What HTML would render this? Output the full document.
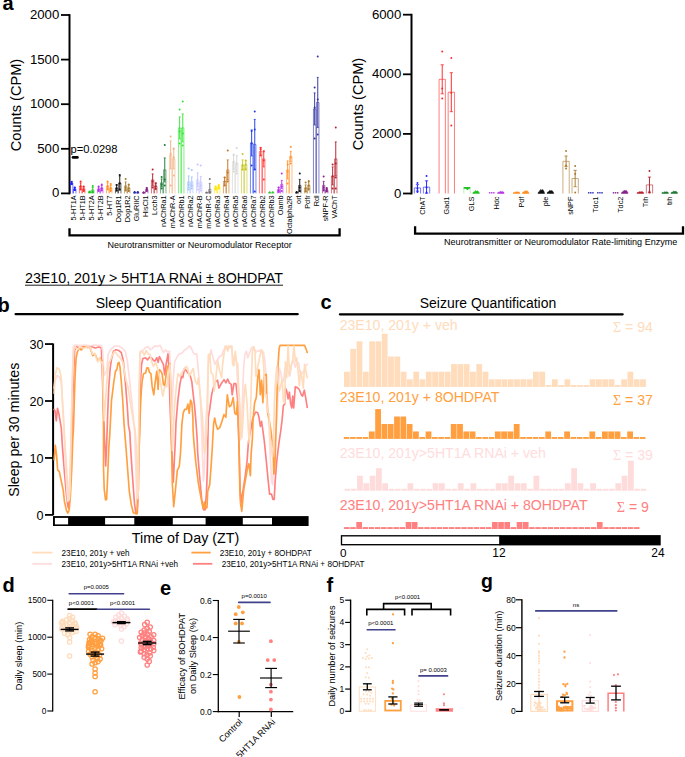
<!DOCTYPE html>
<html><head><meta charset="utf-8"><title>Figure</title>
<style>
html,body{margin:0;padding:0;background:#fff;}
body{width:685px;height:757px;overflow:hidden;font-family:"Liberation Sans", sans-serif;}
svg{display:block;font-family:"Liberation Sans", sans-serif;}
</style></head><body>
<svg width="685" height="757" viewBox="0 0 685 757">
<rect x="0" y="0" width="685" height="757" fill="#ffffff"/>
<g id="panel-a">
<text x="2.50" y="10.00" font-size="20" text-anchor="start" fill="#000" font-weight="bold">a</text>
<line x1="69.50" y1="14.10" x2="69.50" y2="194.30" stroke="#000" stroke-width="2.0" stroke-linecap="butt"/>
<line x1="61.00" y1="193.40" x2="69.50" y2="193.40" stroke="#000" stroke-width="1.8" stroke-linecap="butt"/>
<text x="59.30" y="197.30" font-size="13.2" text-anchor="end" fill="#000" font-weight="normal">0</text>
<line x1="61.00" y1="148.80" x2="69.50" y2="148.80" stroke="#000" stroke-width="1.8" stroke-linecap="butt"/>
<text x="59.30" y="152.70" font-size="13.2" text-anchor="end" fill="#000" font-weight="normal">500</text>
<line x1="61.00" y1="104.20" x2="69.50" y2="104.20" stroke="#000" stroke-width="1.8" stroke-linecap="butt"/>
<text x="59.30" y="108.10" font-size="13.2" text-anchor="end" fill="#000" font-weight="normal">1000</text>
<line x1="61.00" y1="59.60" x2="69.50" y2="59.60" stroke="#000" stroke-width="1.8" stroke-linecap="butt"/>
<text x="59.30" y="63.50" font-size="13.2" text-anchor="end" fill="#000" font-weight="normal">1500</text>
<line x1="61.00" y1="15.00" x2="69.50" y2="15.00" stroke="#000" stroke-width="1.8" stroke-linecap="butt"/>
<text x="59.30" y="18.90" font-size="13.2" text-anchor="end" fill="#000" font-weight="normal">2000</text>
<text x="20.60" y="105.00" font-size="14.6" text-anchor="middle" fill="#000" font-weight="normal" transform="rotate(-90 20.60 105.00)">Counts (CPM)</text>
<text x="70.60" y="153.00" font-size="11.2" text-anchor="start" fill="#000" font-weight="normal">p=0.0298</text>
<line x1="73.00" y1="157.40" x2="77.40" y2="157.40" stroke="#000" stroke-width="2.7" stroke-linecap="round"/>
<polyline points="70.45,193.40 70.45,182.90 72.85,182.90 72.85,193.40" fill="none" stroke="#1f1fff" stroke-width="0.6"/>
<line x1="71.65" y1="181.40" x2="71.65" y2="184.40" stroke="#1f1fff" stroke-width="0.95" stroke-linecap="butt"/>
<line x1="70.65" y1="181.40" x2="72.65" y2="181.40" stroke="#1f1fff" stroke-width="0.8" stroke-linecap="butt"/>
<line x1="70.65" y1="184.40" x2="72.65" y2="184.40" stroke="#1f1fff" stroke-width="0.8" stroke-linecap="butt"/>
<circle cx="71.65" cy="181.90" r="1.0" fill="#1f1fff" stroke="none" stroke-width="1.0"/>
<circle cx="71.65" cy="183.40" r="1.0" fill="#1f1fff" stroke="none" stroke-width="1.0"/>
<circle cx="71.65" cy="183.90" r="1.0" fill="#1f1fff" stroke="none" stroke-width="1.0"/>
<polyline points="73.55,193.40 73.55,188.90 75.95,188.90 75.95,193.40" fill="none" stroke="#1f1fff" stroke-width="0.6"/>
<line x1="74.75" y1="187.40" x2="74.75" y2="190.40" stroke="#1f1fff" stroke-width="0.95" stroke-linecap="butt"/>
<line x1="73.75" y1="187.40" x2="75.75" y2="187.40" stroke="#1f1fff" stroke-width="0.8" stroke-linecap="butt"/>
<line x1="73.75" y1="190.40" x2="75.75" y2="190.40" stroke="#1f1fff" stroke-width="0.8" stroke-linecap="butt"/>
<circle cx="74.75" cy="187.40" r="1.0" fill="#1f1fff" stroke="none" stroke-width="1.0"/>
<circle cx="74.75" cy="189.40" r="1.0" fill="#1f1fff" stroke="none" stroke-width="1.0"/>
<circle cx="74.75" cy="189.90" r="1.0" fill="#1f1fff" stroke="none" stroke-width="1.0"/>
<text x="75.80" y="195.40" font-size="7.3" text-anchor="end" fill="#000" font-weight="normal" transform="rotate(-90 75.80 195.40)">5-HT1A</text>
<polyline points="79.45,193.40 79.45,185.90 81.85,185.90 81.85,193.40" fill="none" stroke="#ff2626" stroke-width="0.6"/>
<line x1="80.65" y1="182.90" x2="80.65" y2="188.90" stroke="#ff2626" stroke-width="0.95" stroke-linecap="butt"/>
<line x1="79.65" y1="182.90" x2="81.65" y2="182.90" stroke="#ff2626" stroke-width="0.8" stroke-linecap="butt"/>
<line x1="79.65" y1="188.90" x2="81.65" y2="188.90" stroke="#ff2626" stroke-width="0.8" stroke-linecap="butt"/>
<circle cx="80.65" cy="181.40" r="1.0" fill="#ff2626" stroke="none" stroke-width="1.0"/>
<circle cx="80.65" cy="186.40" r="1.0" fill="#ff2626" stroke="none" stroke-width="1.0"/>
<circle cx="80.65" cy="189.40" r="1.0" fill="#ff2626" stroke="none" stroke-width="1.0"/>
<polyline points="82.55,193.40 82.55,188.90 84.95,188.90 84.95,193.40" fill="none" stroke="#ff2626" stroke-width="0.6"/>
<line x1="83.75" y1="186.90" x2="83.75" y2="190.90" stroke="#ff2626" stroke-width="0.95" stroke-linecap="butt"/>
<line x1="82.75" y1="186.90" x2="84.75" y2="186.90" stroke="#ff2626" stroke-width="0.8" stroke-linecap="butt"/>
<line x1="82.75" y1="190.90" x2="84.75" y2="190.90" stroke="#ff2626" stroke-width="0.8" stroke-linecap="butt"/>
<circle cx="83.75" cy="186.40" r="1.0" fill="#ff2626" stroke="none" stroke-width="1.0"/>
<circle cx="83.75" cy="189.40" r="1.0" fill="#ff2626" stroke="none" stroke-width="1.0"/>
<circle cx="83.75" cy="190.90" r="1.0" fill="#ff2626" stroke="none" stroke-width="1.0"/>
<text x="84.80" y="195.40" font-size="7.3" text-anchor="end" fill="#000" font-weight="normal" transform="rotate(-90 84.80 195.40)">5-HT1B</text>
<polyline points="88.45,193.40 88.45,191.90 90.85,191.90 90.85,193.40" fill="none" stroke="#21c321" stroke-width="0.6"/>
<line x1="89.65" y1="191.10" x2="89.65" y2="192.70" stroke="#21c321" stroke-width="0.95" stroke-linecap="butt"/>
<line x1="88.65" y1="191.10" x2="90.65" y2="191.10" stroke="#21c321" stroke-width="0.8" stroke-linecap="butt"/>
<line x1="88.65" y1="192.70" x2="90.65" y2="192.70" stroke="#21c321" stroke-width="0.8" stroke-linecap="butt"/>
<circle cx="89.65" cy="191.90" r="1.0" fill="#21c321" stroke="none" stroke-width="1.0"/>
<circle cx="89.65" cy="192.20" r="1.0" fill="#21c321" stroke="none" stroke-width="1.0"/>
<polyline points="91.55,193.40 91.55,189.90 93.95,189.90 93.95,193.40" fill="none" stroke="#21c321" stroke-width="0.6"/>
<line x1="92.75" y1="187.40" x2="92.75" y2="192.40" stroke="#21c321" stroke-width="0.95" stroke-linecap="butt"/>
<line x1="91.75" y1="187.40" x2="93.75" y2="187.40" stroke="#21c321" stroke-width="0.8" stroke-linecap="butt"/>
<line x1="91.75" y1="192.40" x2="93.75" y2="192.40" stroke="#21c321" stroke-width="0.8" stroke-linecap="butt"/>
<circle cx="92.75" cy="185.90" r="1.0" fill="#21c321" stroke="none" stroke-width="1.0"/>
<circle cx="92.75" cy="191.40" r="1.0" fill="#21c321" stroke="none" stroke-width="1.0"/>
<circle cx="92.75" cy="192.40" r="1.0" fill="#21c321" stroke="none" stroke-width="1.0"/>
<text x="93.80" y="195.40" font-size="7.3" text-anchor="end" fill="#000" font-weight="normal" transform="rotate(-90 93.80 195.40)">5-HT2A</text>
<polyline points="97.45,193.40 97.45,188.90 99.85,188.90 99.85,193.40" fill="none" stroke="#b432e6" stroke-width="0.6"/>
<line x1="98.65" y1="186.90" x2="98.65" y2="190.90" stroke="#b432e6" stroke-width="0.95" stroke-linecap="butt"/>
<line x1="97.65" y1="186.90" x2="99.65" y2="186.90" stroke="#b432e6" stroke-width="0.8" stroke-linecap="butt"/>
<line x1="97.65" y1="190.90" x2="99.65" y2="190.90" stroke="#b432e6" stroke-width="0.8" stroke-linecap="butt"/>
<circle cx="98.65" cy="186.40" r="1.0" fill="#b432e6" stroke="none" stroke-width="1.0"/>
<circle cx="98.65" cy="189.40" r="1.0" fill="#b432e6" stroke="none" stroke-width="1.0"/>
<circle cx="98.65" cy="190.90" r="1.0" fill="#b432e6" stroke="none" stroke-width="1.0"/>
<polyline points="100.55,193.40 100.55,187.90 102.95,187.90 102.95,193.40" fill="none" stroke="#b432e6" stroke-width="0.6"/>
<line x1="101.75" y1="185.40" x2="101.75" y2="190.40" stroke="#b432e6" stroke-width="0.95" stroke-linecap="butt"/>
<line x1="100.75" y1="185.40" x2="102.75" y2="185.40" stroke="#b432e6" stroke-width="0.8" stroke-linecap="butt"/>
<line x1="100.75" y1="190.40" x2="102.75" y2="190.40" stroke="#b432e6" stroke-width="0.8" stroke-linecap="butt"/>
<circle cx="101.75" cy="184.40" r="1.0" fill="#b432e6" stroke="none" stroke-width="1.0"/>
<circle cx="101.75" cy="188.40" r="1.0" fill="#b432e6" stroke="none" stroke-width="1.0"/>
<circle cx="101.75" cy="190.40" r="1.0" fill="#b432e6" stroke="none" stroke-width="1.0"/>
<text x="102.80" y="195.40" font-size="7.3" text-anchor="end" fill="#000" font-weight="normal" transform="rotate(-90 102.80 195.40)">5-HT2B</text>
<polyline points="106.45,193.40 106.45,185.90 108.85,185.90 108.85,193.40" fill="none" stroke="#ff8c1f" stroke-width="0.6"/>
<line x1="107.65" y1="182.90" x2="107.65" y2="188.90" stroke="#ff8c1f" stroke-width="0.95" stroke-linecap="butt"/>
<line x1="106.65" y1="182.90" x2="108.65" y2="182.90" stroke="#ff8c1f" stroke-width="0.8" stroke-linecap="butt"/>
<line x1="106.65" y1="188.90" x2="108.65" y2="188.90" stroke="#ff8c1f" stroke-width="0.8" stroke-linecap="butt"/>
<circle cx="107.65" cy="181.40" r="1.0" fill="#ff8c1f" stroke="none" stroke-width="1.0"/>
<circle cx="107.65" cy="186.40" r="1.0" fill="#ff8c1f" stroke="none" stroke-width="1.0"/>
<circle cx="107.65" cy="189.40" r="1.0" fill="#ff8c1f" stroke="none" stroke-width="1.0"/>
<polyline points="109.55,193.40 109.55,187.90 111.95,187.90 111.95,193.40" fill="none" stroke="#ff8c1f" stroke-width="0.6"/>
<line x1="110.75" y1="185.40" x2="110.75" y2="190.40" stroke="#ff8c1f" stroke-width="0.95" stroke-linecap="butt"/>
<line x1="109.75" y1="185.40" x2="111.75" y2="185.40" stroke="#ff8c1f" stroke-width="0.8" stroke-linecap="butt"/>
<line x1="109.75" y1="190.40" x2="111.75" y2="190.40" stroke="#ff8c1f" stroke-width="0.8" stroke-linecap="butt"/>
<circle cx="110.75" cy="183.90" r="1.0" fill="#ff8c1f" stroke="none" stroke-width="1.0"/>
<circle cx="110.75" cy="188.40" r="1.0" fill="#ff8c1f" stroke="none" stroke-width="1.0"/>
<circle cx="110.75" cy="190.90" r="1.0" fill="#ff8c1f" stroke="none" stroke-width="1.0"/>
<text x="111.80" y="195.40" font-size="7.3" text-anchor="end" fill="#000" font-weight="normal" transform="rotate(-90 111.80 195.40)">5-HT7</text>
<polyline points="115.45,193.40 115.45,187.90 117.85,187.90 117.85,193.40" fill="none" stroke="#111111" stroke-width="0.6"/>
<line x1="116.65" y1="184.90" x2="116.65" y2="190.90" stroke="#111111" stroke-width="0.95" stroke-linecap="butt"/>
<line x1="115.65" y1="184.90" x2="117.65" y2="184.90" stroke="#111111" stroke-width="0.8" stroke-linecap="butt"/>
<line x1="115.65" y1="190.90" x2="117.65" y2="190.90" stroke="#111111" stroke-width="0.8" stroke-linecap="butt"/>
<circle cx="116.65" cy="184.90" r="1.0" fill="#111111" stroke="none" stroke-width="1.0"/>
<circle cx="116.65" cy="188.40" r="1.0" fill="#111111" stroke="none" stroke-width="1.0"/>
<circle cx="116.65" cy="190.40" r="1.0" fill="#111111" stroke="none" stroke-width="1.0"/>
<polyline points="118.55,193.40 118.55,182.90 120.95,182.90 120.95,193.40" fill="none" stroke="#111111" stroke-width="0.6"/>
<line x1="119.75" y1="175.90" x2="119.75" y2="189.90" stroke="#111111" stroke-width="0.95" stroke-linecap="butt"/>
<line x1="118.75" y1="175.90" x2="120.75" y2="175.90" stroke="#111111" stroke-width="0.8" stroke-linecap="butt"/>
<line x1="118.75" y1="189.90" x2="120.75" y2="189.90" stroke="#111111" stroke-width="0.8" stroke-linecap="butt"/>
<circle cx="119.75" cy="174.90" r="1.0" fill="#111111" stroke="none" stroke-width="1.0"/>
<circle cx="119.75" cy="183.40" r="1.0" fill="#111111" stroke="none" stroke-width="1.0"/>
<circle cx="119.75" cy="189.40" r="1.0" fill="#111111" stroke="none" stroke-width="1.0"/>
<text x="120.80" y="195.40" font-size="7.3" text-anchor="end" fill="#000" font-weight="normal" transform="rotate(-90 120.80 195.40)">Dop1R1</text>
<polyline points="124.45,193.40 124.45,185.90 126.85,185.90 126.85,193.40" fill="none" stroke="#a8782c" stroke-width="0.6"/>
<line x1="125.65" y1="181.90" x2="125.65" y2="189.90" stroke="#a8782c" stroke-width="0.95" stroke-linecap="butt"/>
<line x1="124.65" y1="181.90" x2="126.65" y2="181.90" stroke="#a8782c" stroke-width="0.8" stroke-linecap="butt"/>
<line x1="124.65" y1="189.90" x2="126.65" y2="189.90" stroke="#a8782c" stroke-width="0.8" stroke-linecap="butt"/>
<circle cx="125.65" cy="178.90" r="1.0" fill="#a8782c" stroke="none" stroke-width="1.0"/>
<circle cx="125.65" cy="187.40" r="1.0" fill="#a8782c" stroke="none" stroke-width="1.0"/>
<circle cx="125.65" cy="190.40" r="1.0" fill="#a8782c" stroke="none" stroke-width="1.0"/>
<polyline points="127.55,193.40 127.55,187.90 129.95,187.90 129.95,193.40" fill="none" stroke="#a8782c" stroke-width="0.6"/>
<line x1="128.75" y1="184.90" x2="128.75" y2="190.90" stroke="#a8782c" stroke-width="0.95" stroke-linecap="butt"/>
<line x1="127.75" y1="184.90" x2="129.75" y2="184.90" stroke="#a8782c" stroke-width="0.8" stroke-linecap="butt"/>
<line x1="127.75" y1="190.90" x2="129.75" y2="190.90" stroke="#a8782c" stroke-width="0.8" stroke-linecap="butt"/>
<circle cx="128.75" cy="184.40" r="1.0" fill="#a8782c" stroke="none" stroke-width="1.0"/>
<circle cx="128.75" cy="188.40" r="1.0" fill="#a8782c" stroke="none" stroke-width="1.0"/>
<circle cx="128.75" cy="190.90" r="1.0" fill="#a8782c" stroke="none" stroke-width="1.0"/>
<text x="129.80" y="195.40" font-size="7.3" text-anchor="end" fill="#000" font-weight="normal" transform="rotate(-90 129.80 195.40)">Dop1R2</text>
<line x1="133.15" y1="192.90" x2="136.15" y2="192.90" stroke="#2424b4" stroke-width="1.0" stroke-linecap="butt"/>
<circle cx="134.65" cy="192.10" r="1.0" fill="#2424b4" stroke="none" stroke-width="1.0"/>
<circle cx="134.65" cy="192.40" r="1.0" fill="#2424b4" stroke="none" stroke-width="1.0"/>
<line x1="136.25" y1="192.90" x2="139.25" y2="192.90" stroke="#2424b4" stroke-width="1.0" stroke-linecap="butt"/>
<circle cx="137.75" cy="192.10" r="1.0" fill="#2424b4" stroke="none" stroke-width="1.0"/>
<circle cx="137.75" cy="192.40" r="1.0" fill="#2424b4" stroke="none" stroke-width="1.0"/>
<text x="138.80" y="195.40" font-size="7.3" text-anchor="end" fill="#000" font-weight="normal" transform="rotate(-90 138.80 195.40)">GluRIIC</text>
<line x1="142.15" y1="192.90" x2="145.15" y2="192.90" stroke="#84218a" stroke-width="1.0" stroke-linecap="butt"/>
<circle cx="143.65" cy="192.40" r="1.0" fill="#84218a" stroke="none" stroke-width="1.0"/>
<circle cx="143.65" cy="192.60" r="1.0" fill="#84218a" stroke="none" stroke-width="1.0"/>
<polyline points="145.55,193.40 145.55,189.40 147.95,189.40 147.95,193.40" fill="none" stroke="#84218a" stroke-width="0.6"/>
<line x1="146.75" y1="187.90" x2="146.75" y2="190.90" stroke="#84218a" stroke-width="0.95" stroke-linecap="butt"/>
<line x1="145.75" y1="187.90" x2="147.75" y2="187.90" stroke="#84218a" stroke-width="0.8" stroke-linecap="butt"/>
<line x1="145.75" y1="190.90" x2="147.75" y2="190.90" stroke="#84218a" stroke-width="0.8" stroke-linecap="butt"/>
<circle cx="146.75" cy="187.90" r="1.0" fill="#84218a" stroke="none" stroke-width="1.0"/>
<circle cx="146.75" cy="189.40" r="1.0" fill="#84218a" stroke="none" stroke-width="1.0"/>
<circle cx="146.75" cy="190.90" r="1.0" fill="#84218a" stroke="none" stroke-width="1.0"/>
<text x="147.80" y="195.40" font-size="7.3" text-anchor="end" fill="#000" font-weight="normal" transform="rotate(-90 147.80 195.40)">HisCl1</text>
<polyline points="151.45,193.40 151.45,179.90 153.85,179.90 153.85,193.40" fill="none" stroke="#b4202c" stroke-width="0.6"/>
<line x1="152.65" y1="173.90" x2="152.65" y2="185.90" stroke="#b4202c" stroke-width="0.95" stroke-linecap="butt"/>
<line x1="151.65" y1="173.90" x2="153.65" y2="173.90" stroke="#b4202c" stroke-width="0.8" stroke-linecap="butt"/>
<line x1="151.65" y1="185.90" x2="153.65" y2="185.90" stroke="#b4202c" stroke-width="0.8" stroke-linecap="butt"/>
<circle cx="152.65" cy="169.40" r="1.0" fill="#b4202c" stroke="none" stroke-width="1.0"/>
<circle cx="152.65" cy="181.40" r="1.0" fill="#b4202c" stroke="none" stroke-width="1.0"/>
<circle cx="152.65" cy="187.40" r="1.0" fill="#b4202c" stroke="none" stroke-width="1.0"/>
<polyline points="154.55,193.40 154.55,185.90 156.95,185.90 156.95,193.40" fill="none" stroke="#b4202c" stroke-width="0.6"/>
<line x1="155.75" y1="182.90" x2="155.75" y2="188.90" stroke="#b4202c" stroke-width="0.95" stroke-linecap="butt"/>
<line x1="154.75" y1="182.90" x2="156.75" y2="182.90" stroke="#b4202c" stroke-width="0.8" stroke-linecap="butt"/>
<line x1="154.75" y1="188.90" x2="156.75" y2="188.90" stroke="#b4202c" stroke-width="0.8" stroke-linecap="butt"/>
<circle cx="155.75" cy="183.40" r="1.0" fill="#b4202c" stroke="none" stroke-width="1.0"/>
<circle cx="155.75" cy="186.40" r="1.0" fill="#b4202c" stroke="none" stroke-width="1.0"/>
<circle cx="155.75" cy="188.90" r="1.0" fill="#b4202c" stroke="none" stroke-width="1.0"/>
<text x="156.80" y="195.40" font-size="7.3" text-anchor="end" fill="#000" font-weight="normal" transform="rotate(-90 156.80 195.40)">Lcch3</text>
<polyline points="160.45,193.40 160.45,182.90 162.85,182.90 162.85,193.40" fill="none" stroke="#1d7a34" stroke-width="0.6"/>
<line x1="161.65" y1="178.90" x2="161.65" y2="186.90" stroke="#1d7a34" stroke-width="0.95" stroke-linecap="butt"/>
<line x1="160.65" y1="178.90" x2="162.65" y2="178.90" stroke="#1d7a34" stroke-width="0.8" stroke-linecap="butt"/>
<line x1="160.65" y1="186.90" x2="162.65" y2="186.90" stroke="#1d7a34" stroke-width="0.8" stroke-linecap="butt"/>
<circle cx="161.65" cy="176.90" r="1.0" fill="#1d7a34" stroke="none" stroke-width="1.0"/>
<circle cx="161.65" cy="184.40" r="1.0" fill="#1d7a34" stroke="none" stroke-width="1.0"/>
<circle cx="161.65" cy="188.40" r="1.0" fill="#1d7a34" stroke="none" stroke-width="1.0"/>
<polyline points="163.55,193.40 163.55,169.90 165.95,169.90 165.95,193.40" fill="none" stroke="#1d7a34" stroke-width="0.6"/>
<line x1="164.75" y1="157.90" x2="164.75" y2="181.90" stroke="#1d7a34" stroke-width="0.95" stroke-linecap="butt"/>
<line x1="163.75" y1="157.90" x2="165.75" y2="157.90" stroke="#1d7a34" stroke-width="0.8" stroke-linecap="butt"/>
<line x1="163.75" y1="181.90" x2="165.75" y2="181.90" stroke="#1d7a34" stroke-width="0.8" stroke-linecap="butt"/>
<circle cx="164.75" cy="144.90" r="1.0" fill="#1d7a34" stroke="none" stroke-width="1.0"/>
<circle cx="164.75" cy="179.40" r="1.0" fill="#1d7a34" stroke="none" stroke-width="1.0"/>
<circle cx="164.75" cy="185.40" r="1.0" fill="#1d7a34" stroke="none" stroke-width="1.0"/>
<text x="165.80" y="195.40" font-size="7.3" text-anchor="end" fill="#000" font-weight="normal" transform="rotate(-90 165.80 195.40)">nAChRa1</text>
<polyline points="169.45,193.40 169.45,154.90 171.85,154.90 171.85,193.40" fill="none" stroke="#f2b283" stroke-width="0.6"/>
<line x1="170.65" y1="140.90" x2="170.65" y2="168.90" stroke="#f2b283" stroke-width="0.95" stroke-linecap="butt"/>
<line x1="169.65" y1="140.90" x2="171.65" y2="140.90" stroke="#f2b283" stroke-width="0.8" stroke-linecap="butt"/>
<line x1="169.65" y1="168.90" x2="171.65" y2="168.90" stroke="#f2b283" stroke-width="0.8" stroke-linecap="butt"/>
<circle cx="170.65" cy="136.40" r="1.0" fill="#f2b283" stroke="none" stroke-width="1.0"/>
<circle cx="170.65" cy="153.40" r="1.0" fill="#f2b283" stroke="none" stroke-width="1.0"/>
<circle cx="170.65" cy="185.40" r="1.0" fill="#f2b283" stroke="none" stroke-width="1.0"/>
<polyline points="172.55,193.40 172.55,158.90 174.95,158.90 174.95,193.40" fill="none" stroke="#f2b283" stroke-width="0.6"/>
<line x1="173.75" y1="148.90" x2="173.75" y2="168.90" stroke="#f2b283" stroke-width="0.95" stroke-linecap="butt"/>
<line x1="172.75" y1="148.90" x2="174.75" y2="148.90" stroke="#f2b283" stroke-width="0.8" stroke-linecap="butt"/>
<line x1="172.75" y1="168.90" x2="174.75" y2="168.90" stroke="#f2b283" stroke-width="0.8" stroke-linecap="butt"/>
<circle cx="173.75" cy="148.40" r="1.0" fill="#f2b283" stroke="none" stroke-width="1.0"/>
<circle cx="173.75" cy="157.40" r="1.0" fill="#f2b283" stroke="none" stroke-width="1.0"/>
<circle cx="173.75" cy="175.40" r="1.0" fill="#f2b283" stroke="none" stroke-width="1.0"/>
<text x="174.80" y="195.40" font-size="7.3" text-anchor="end" fill="#000" font-weight="normal" transform="rotate(-90 174.80 195.40)">mAChR-A</text>
<polyline points="178.45,193.40 178.45,127.90 180.85,127.90 180.85,193.40" fill="none" stroke="#33e633" stroke-width="0.6"/>
<line x1="179.65" y1="116.90" x2="179.65" y2="138.90" stroke="#33e633" stroke-width="0.95" stroke-linecap="butt"/>
<line x1="178.65" y1="116.90" x2="180.65" y2="116.90" stroke="#33e633" stroke-width="0.8" stroke-linecap="butt"/>
<line x1="178.65" y1="138.90" x2="180.65" y2="138.90" stroke="#33e633" stroke-width="0.8" stroke-linecap="butt"/>
<circle cx="179.65" cy="109.40" r="1.0" fill="#33e633" stroke="none" stroke-width="1.0"/>
<circle cx="179.65" cy="131.40" r="1.0" fill="#33e633" stroke="none" stroke-width="1.0"/>
<circle cx="179.65" cy="143.40" r="1.0" fill="#33e633" stroke="none" stroke-width="1.0"/>
<polyline points="181.55,193.40 181.55,127.90 183.95,127.90 183.95,193.40" fill="none" stroke="#33e633" stroke-width="0.6"/>
<line x1="182.75" y1="113.90" x2="182.75" y2="141.90" stroke="#33e633" stroke-width="0.95" stroke-linecap="butt"/>
<line x1="181.75" y1="113.90" x2="183.75" y2="113.90" stroke="#33e633" stroke-width="0.8" stroke-linecap="butt"/>
<line x1="181.75" y1="141.90" x2="183.75" y2="141.90" stroke="#33e633" stroke-width="0.8" stroke-linecap="butt"/>
<circle cx="182.75" cy="101.40" r="1.0" fill="#33e633" stroke="none" stroke-width="1.0"/>
<circle cx="182.75" cy="133.40" r="1.0" fill="#33e633" stroke="none" stroke-width="1.0"/>
<circle cx="182.75" cy="145.40" r="1.0" fill="#33e633" stroke="none" stroke-width="1.0"/>
<text x="183.80" y="195.40" font-size="7.3" text-anchor="end" fill="#000" font-weight="normal" transform="rotate(-90 183.80 195.40)">nAChRb1</text>
<polyline points="187.45,193.40 187.45,181.90 189.85,181.90 189.85,193.40" fill="none" stroke="#a6c3ff" stroke-width="0.6"/>
<line x1="188.65" y1="175.90" x2="188.65" y2="187.90" stroke="#a6c3ff" stroke-width="0.95" stroke-linecap="butt"/>
<line x1="187.65" y1="175.90" x2="189.65" y2="175.90" stroke="#a6c3ff" stroke-width="0.8" stroke-linecap="butt"/>
<line x1="187.65" y1="187.90" x2="189.65" y2="187.90" stroke="#a6c3ff" stroke-width="0.8" stroke-linecap="butt"/>
<circle cx="188.65" cy="168.40" r="1.0" fill="#a6c3ff" stroke="none" stroke-width="1.0"/>
<circle cx="188.65" cy="184.40" r="1.0" fill="#a6c3ff" stroke="none" stroke-width="1.0"/>
<circle cx="188.65" cy="189.40" r="1.0" fill="#a6c3ff" stroke="none" stroke-width="1.0"/>
<polyline points="190.55,193.40 190.55,181.90 192.95,181.90 192.95,193.40" fill="none" stroke="#a6c3ff" stroke-width="0.6"/>
<line x1="191.75" y1="176.90" x2="191.75" y2="186.90" stroke="#a6c3ff" stroke-width="0.95" stroke-linecap="butt"/>
<line x1="190.75" y1="176.90" x2="192.75" y2="176.90" stroke="#a6c3ff" stroke-width="0.8" stroke-linecap="butt"/>
<line x1="190.75" y1="186.90" x2="192.75" y2="186.90" stroke="#a6c3ff" stroke-width="0.8" stroke-linecap="butt"/>
<circle cx="191.75" cy="169.90" r="1.0" fill="#a6c3ff" stroke="none" stroke-width="1.0"/>
<circle cx="191.75" cy="185.40" r="1.0" fill="#a6c3ff" stroke="none" stroke-width="1.0"/>
<circle cx="191.75" cy="188.40" r="1.0" fill="#a6c3ff" stroke="none" stroke-width="1.0"/>
<text x="192.80" y="195.40" font-size="7.3" text-anchor="end" fill="#000" font-weight="normal" transform="rotate(-90 192.80 195.40)">nAChRa2</text>
<polyline points="196.45,193.40 196.45,179.90 198.85,179.90 198.85,193.40" fill="none" stroke="#c3c3ff" stroke-width="0.6"/>
<line x1="197.65" y1="172.90" x2="197.65" y2="186.90" stroke="#c3c3ff" stroke-width="0.95" stroke-linecap="butt"/>
<line x1="196.65" y1="172.90" x2="198.65" y2="172.90" stroke="#c3c3ff" stroke-width="0.8" stroke-linecap="butt"/>
<line x1="196.65" y1="186.90" x2="198.65" y2="186.90" stroke="#c3c3ff" stroke-width="0.8" stroke-linecap="butt"/>
<circle cx="197.65" cy="164.40" r="1.0" fill="#c3c3ff" stroke="none" stroke-width="1.0"/>
<circle cx="197.65" cy="183.40" r="1.0" fill="#c3c3ff" stroke="none" stroke-width="1.0"/>
<circle cx="197.65" cy="189.40" r="1.0" fill="#c3c3ff" stroke="none" stroke-width="1.0"/>
<polyline points="199.55,193.40 199.55,182.40 201.95,182.40 201.95,193.40" fill="none" stroke="#c3c3ff" stroke-width="0.6"/>
<line x1="200.75" y1="176.40" x2="200.75" y2="188.40" stroke="#c3c3ff" stroke-width="0.95" stroke-linecap="butt"/>
<line x1="199.75" y1="176.40" x2="201.75" y2="176.40" stroke="#c3c3ff" stroke-width="0.8" stroke-linecap="butt"/>
<line x1="199.75" y1="188.40" x2="201.75" y2="188.40" stroke="#c3c3ff" stroke-width="0.8" stroke-linecap="butt"/>
<circle cx="200.75" cy="165.40" r="1.0" fill="#c3c3ff" stroke="none" stroke-width="1.0"/>
<circle cx="200.75" cy="185.40" r="1.0" fill="#c3c3ff" stroke="none" stroke-width="1.0"/>
<circle cx="200.75" cy="190.40" r="1.0" fill="#c3c3ff" stroke="none" stroke-width="1.0"/>
<text x="201.80" y="195.40" font-size="7.3" text-anchor="end" fill="#000" font-weight="normal" transform="rotate(-90 201.80 195.40)">mAChR-B</text>
<line x1="205.15" y1="192.90" x2="208.15" y2="192.90" stroke="#737373" stroke-width="1.0" stroke-linecap="butt"/>
<circle cx="206.65" cy="192.40" r="1.0" fill="#737373" stroke="none" stroke-width="1.0"/>
<polyline points="208.55,193.40 208.55,189.40 210.95,189.40 210.95,193.40" fill="none" stroke="#737373" stroke-width="0.6"/>
<line x1="209.75" y1="183.40" x2="209.75" y2="193.10" stroke="#737373" stroke-width="0.95" stroke-linecap="butt"/>
<line x1="208.75" y1="183.40" x2="210.75" y2="183.40" stroke="#737373" stroke-width="0.8" stroke-linecap="butt"/>
<line x1="208.75" y1="193.10" x2="210.75" y2="193.10" stroke="#737373" stroke-width="0.8" stroke-linecap="butt"/>
<circle cx="209.75" cy="178.90" r="1.0" fill="#737373" stroke="none" stroke-width="1.0"/>
<circle cx="209.75" cy="191.90" r="1.0" fill="#737373" stroke="none" stroke-width="1.0"/>
<circle cx="209.75" cy="192.40" r="1.0" fill="#737373" stroke="none" stroke-width="1.0"/>
<text x="210.80" y="195.40" font-size="7.3" text-anchor="end" fill="#000" font-weight="normal" transform="rotate(-90 210.80 195.40)">mAChR-C</text>
<polyline points="214.45,193.40 214.45,187.90 216.85,187.90 216.85,193.40" fill="none" stroke="#ffe600" stroke-width="0.6"/>
<line x1="215.65" y1="186.40" x2="215.65" y2="189.40" stroke="#ffe600" stroke-width="0.95" stroke-linecap="butt"/>
<line x1="214.65" y1="186.40" x2="216.65" y2="186.40" stroke="#ffe600" stroke-width="0.8" stroke-linecap="butt"/>
<line x1="214.65" y1="189.40" x2="216.65" y2="189.40" stroke="#ffe600" stroke-width="0.8" stroke-linecap="butt"/>
<circle cx="215.65" cy="186.40" r="1.0" fill="#ffe600" stroke="none" stroke-width="1.0"/>
<circle cx="215.65" cy="187.90" r="1.0" fill="#ffe600" stroke="none" stroke-width="1.0"/>
<circle cx="215.65" cy="189.40" r="1.0" fill="#ffe600" stroke="none" stroke-width="1.0"/>
<polyline points="217.55,193.40 217.55,186.90 219.95,186.90 219.95,193.40" fill="none" stroke="#ffe600" stroke-width="0.6"/>
<line x1="218.75" y1="185.40" x2="218.75" y2="188.40" stroke="#ffe600" stroke-width="0.95" stroke-linecap="butt"/>
<line x1="217.75" y1="185.40" x2="219.75" y2="185.40" stroke="#ffe600" stroke-width="0.8" stroke-linecap="butt"/>
<line x1="217.75" y1="188.40" x2="219.75" y2="188.40" stroke="#ffe600" stroke-width="0.8" stroke-linecap="butt"/>
<circle cx="218.75" cy="184.90" r="1.0" fill="#ffe600" stroke="none" stroke-width="1.0"/>
<circle cx="218.75" cy="186.90" r="1.0" fill="#ffe600" stroke="none" stroke-width="1.0"/>
<circle cx="218.75" cy="188.40" r="1.0" fill="#ffe600" stroke="none" stroke-width="1.0"/>
<text x="219.80" y="195.40" font-size="7.3" text-anchor="end" fill="#000" font-weight="normal" transform="rotate(-90 219.80 195.40)">nAChRa3</text>
<polyline points="223.45,193.40 223.45,181.40 225.85,181.40 225.85,193.40" fill="none" stroke="#c47322" stroke-width="0.6"/>
<line x1="224.65" y1="177.40" x2="224.65" y2="185.40" stroke="#c47322" stroke-width="0.95" stroke-linecap="butt"/>
<line x1="223.65" y1="177.40" x2="225.65" y2="177.40" stroke="#c47322" stroke-width="0.8" stroke-linecap="butt"/>
<line x1="223.65" y1="185.40" x2="225.65" y2="185.40" stroke="#c47322" stroke-width="0.8" stroke-linecap="butt"/>
<circle cx="224.65" cy="177.40" r="1.0" fill="#c47322" stroke="none" stroke-width="1.0"/>
<circle cx="224.65" cy="181.40" r="1.0" fill="#c47322" stroke="none" stroke-width="1.0"/>
<circle cx="224.65" cy="185.40" r="1.0" fill="#c47322" stroke="none" stroke-width="1.0"/>
<polyline points="226.55,193.40 226.55,169.90 228.95,169.90 228.95,193.40" fill="none" stroke="#c47322" stroke-width="0.6"/>
<line x1="227.75" y1="159.90" x2="227.75" y2="179.90" stroke="#c47322" stroke-width="0.95" stroke-linecap="butt"/>
<line x1="226.75" y1="159.90" x2="228.75" y2="159.90" stroke="#c47322" stroke-width="0.8" stroke-linecap="butt"/>
<line x1="226.75" y1="179.90" x2="228.75" y2="179.90" stroke="#c47322" stroke-width="0.8" stroke-linecap="butt"/>
<circle cx="227.75" cy="150.40" r="1.0" fill="#c47322" stroke="none" stroke-width="1.0"/>
<circle cx="227.75" cy="172.40" r="1.0" fill="#c47322" stroke="none" stroke-width="1.0"/>
<circle cx="227.75" cy="181.40" r="1.0" fill="#c47322" stroke="none" stroke-width="1.0"/>
<text x="228.80" y="195.40" font-size="7.3" text-anchor="end" fill="#000" font-weight="normal" transform="rotate(-90 228.80 195.40)">nAChRa4</text>
<polyline points="232.45,193.40 232.45,162.40 234.85,162.40 234.85,193.40" fill="none" stroke="#d4d4d4" stroke-width="0.6"/>
<line x1="233.65" y1="155.40" x2="233.65" y2="169.40" stroke="#d4d4d4" stroke-width="0.95" stroke-linecap="butt"/>
<line x1="232.65" y1="155.40" x2="234.65" y2="155.40" stroke="#d4d4d4" stroke-width="0.8" stroke-linecap="butt"/>
<line x1="232.65" y1="169.40" x2="234.65" y2="169.40" stroke="#d4d4d4" stroke-width="0.8" stroke-linecap="butt"/>
<circle cx="233.65" cy="154.40" r="1.0" fill="#d4d4d4" stroke="none" stroke-width="1.0"/>
<circle cx="233.65" cy="161.40" r="1.0" fill="#d4d4d4" stroke="none" stroke-width="1.0"/>
<circle cx="233.65" cy="171.40" r="1.0" fill="#d4d4d4" stroke="none" stroke-width="1.0"/>
<polyline points="235.55,193.40 235.55,163.40 237.95,163.40 237.95,193.40" fill="none" stroke="#d4d4d4" stroke-width="0.6"/>
<line x1="236.75" y1="155.40" x2="236.75" y2="171.40" stroke="#d4d4d4" stroke-width="0.95" stroke-linecap="butt"/>
<line x1="235.75" y1="155.40" x2="237.75" y2="155.40" stroke="#d4d4d4" stroke-width="0.8" stroke-linecap="butt"/>
<line x1="235.75" y1="171.40" x2="237.75" y2="171.40" stroke="#d4d4d4" stroke-width="0.8" stroke-linecap="butt"/>
<circle cx="236.75" cy="147.90" r="1.0" fill="#d4d4d4" stroke="none" stroke-width="1.0"/>
<circle cx="236.75" cy="163.40" r="1.0" fill="#d4d4d4" stroke="none" stroke-width="1.0"/>
<circle cx="236.75" cy="173.40" r="1.0" fill="#d4d4d4" stroke="none" stroke-width="1.0"/>
<text x="237.80" y="195.40" font-size="7.3" text-anchor="end" fill="#000" font-weight="normal" transform="rotate(-90 237.80 195.40)">nAChRa5</text>
<polyline points="241.45,193.40 241.45,164.90 243.85,164.90 243.85,193.40" fill="none" stroke="#c6c621" stroke-width="0.6"/>
<line x1="242.65" y1="159.90" x2="242.65" y2="169.90" stroke="#c6c621" stroke-width="0.95" stroke-linecap="butt"/>
<line x1="241.65" y1="159.90" x2="243.65" y2="159.90" stroke="#c6c621" stroke-width="0.8" stroke-linecap="butt"/>
<line x1="241.65" y1="169.90" x2="243.65" y2="169.90" stroke="#c6c621" stroke-width="0.8" stroke-linecap="butt"/>
<circle cx="242.65" cy="153.90" r="1.0" fill="#c6c621" stroke="none" stroke-width="1.0"/>
<circle cx="242.65" cy="165.40" r="1.0" fill="#c6c621" stroke="none" stroke-width="1.0"/>
<circle cx="242.65" cy="169.40" r="1.0" fill="#c6c621" stroke="none" stroke-width="1.0"/>
<polyline points="244.55,193.40 244.55,164.90 246.95,164.90 246.95,193.40" fill="none" stroke="#c6c621" stroke-width="0.6"/>
<line x1="245.75" y1="160.90" x2="245.75" y2="168.90" stroke="#c6c621" stroke-width="0.95" stroke-linecap="butt"/>
<line x1="244.75" y1="160.90" x2="246.75" y2="160.90" stroke="#c6c621" stroke-width="0.8" stroke-linecap="butt"/>
<line x1="244.75" y1="168.90" x2="246.75" y2="168.90" stroke="#c6c621" stroke-width="0.8" stroke-linecap="butt"/>
<circle cx="245.75" cy="160.40" r="1.0" fill="#c6c621" stroke="none" stroke-width="1.0"/>
<circle cx="245.75" cy="164.40" r="1.0" fill="#c6c621" stroke="none" stroke-width="1.0"/>
<circle cx="245.75" cy="169.40" r="1.0" fill="#c6c621" stroke="none" stroke-width="1.0"/>
<text x="246.80" y="195.40" font-size="7.3" text-anchor="end" fill="#000" font-weight="normal" transform="rotate(-90 246.80 195.40)">nAChRa6</text>
<polyline points="250.45,193.40 250.45,142.90 252.85,142.90 252.85,193.40" fill="none" stroke="#1f3ce6" stroke-width="0.6"/>
<line x1="251.65" y1="129.90" x2="251.65" y2="155.90" stroke="#1f3ce6" stroke-width="0.95" stroke-linecap="butt"/>
<line x1="250.65" y1="129.90" x2="252.65" y2="129.90" stroke="#1f3ce6" stroke-width="0.8" stroke-linecap="butt"/>
<line x1="250.65" y1="155.90" x2="252.65" y2="155.90" stroke="#1f3ce6" stroke-width="0.8" stroke-linecap="butt"/>
<circle cx="251.65" cy="130.90" r="1.0" fill="#1f3ce6" stroke="none" stroke-width="1.0"/>
<circle cx="251.65" cy="143.40" r="1.0" fill="#1f3ce6" stroke="none" stroke-width="1.0"/>
<circle cx="251.65" cy="165.40" r="1.0" fill="#1f3ce6" stroke="none" stroke-width="1.0"/>
<polyline points="253.55,193.40 253.55,144.40 255.95,144.40 255.95,193.40" fill="none" stroke="#1f3ce6" stroke-width="0.6"/>
<line x1="254.75" y1="119.40" x2="254.75" y2="169.40" stroke="#1f3ce6" stroke-width="0.95" stroke-linecap="butt"/>
<line x1="253.75" y1="119.40" x2="255.75" y2="119.40" stroke="#1f3ce6" stroke-width="0.8" stroke-linecap="butt"/>
<line x1="253.75" y1="169.40" x2="255.75" y2="169.40" stroke="#1f3ce6" stroke-width="0.8" stroke-linecap="butt"/>
<circle cx="254.75" cy="111.40" r="1.0" fill="#1f3ce6" stroke="none" stroke-width="1.0"/>
<circle cx="254.75" cy="129.40" r="1.0" fill="#1f3ce6" stroke="none" stroke-width="1.0"/>
<circle cx="254.75" cy="169.40" r="1.0" fill="#1f3ce6" stroke="none" stroke-width="1.0"/>
<circle cx="254.75" cy="191.40" r="1.0" fill="#1f3ce6" stroke="none" stroke-width="1.0"/>
<text x="255.80" y="195.40" font-size="7.3" text-anchor="end" fill="#000" font-weight="normal" transform="rotate(-90 255.80 195.40)">nAChRa7</text>
<polyline points="259.45,193.40 259.45,151.40 261.85,151.40 261.85,193.40" fill="none" stroke="#ff3333" stroke-width="0.6"/>
<line x1="260.65" y1="147.40" x2="260.65" y2="155.40" stroke="#ff3333" stroke-width="0.95" stroke-linecap="butt"/>
<line x1="259.65" y1="147.40" x2="261.65" y2="147.40" stroke="#ff3333" stroke-width="0.8" stroke-linecap="butt"/>
<line x1="259.65" y1="155.40" x2="261.65" y2="155.40" stroke="#ff3333" stroke-width="0.8" stroke-linecap="butt"/>
<circle cx="260.65" cy="147.90" r="1.0" fill="#ff3333" stroke="none" stroke-width="1.0"/>
<circle cx="260.65" cy="149.40" r="1.0" fill="#ff3333" stroke="none" stroke-width="1.0"/>
<circle cx="260.65" cy="155.40" r="1.0" fill="#ff3333" stroke="none" stroke-width="1.0"/>
<polyline points="262.55,193.40 262.55,158.90 264.95,158.90 264.95,193.40" fill="none" stroke="#ff3333" stroke-width="0.6"/>
<line x1="263.75" y1="150.90" x2="263.75" y2="166.90" stroke="#ff3333" stroke-width="0.95" stroke-linecap="butt"/>
<line x1="262.75" y1="150.90" x2="264.75" y2="150.90" stroke="#ff3333" stroke-width="0.8" stroke-linecap="butt"/>
<line x1="262.75" y1="166.90" x2="264.75" y2="166.90" stroke="#ff3333" stroke-width="0.8" stroke-linecap="butt"/>
<circle cx="263.75" cy="151.40" r="1.0" fill="#ff3333" stroke="none" stroke-width="1.0"/>
<circle cx="263.75" cy="160.40" r="1.0" fill="#ff3333" stroke="none" stroke-width="1.0"/>
<circle cx="263.75" cy="179.40" r="1.0" fill="#ff3333" stroke="none" stroke-width="1.0"/>
<text x="264.80" y="195.40" font-size="7.3" text-anchor="end" fill="#000" font-weight="normal" transform="rotate(-90 264.80 195.40)">nAChRb2</text>
<line x1="268.15" y1="192.90" x2="271.15" y2="192.90" stroke="#33c333" stroke-width="1.0" stroke-linecap="butt"/>
<circle cx="269.65" cy="192.20" r="1.0" fill="#33c333" stroke="none" stroke-width="1.0"/>
<line x1="271.25" y1="192.90" x2="274.25" y2="192.90" stroke="#33c333" stroke-width="1.0" stroke-linecap="butt"/>
<circle cx="272.75" cy="192.20" r="1.0" fill="#33c333" stroke="none" stroke-width="1.0"/>
<text x="273.80" y="195.40" font-size="7.3" text-anchor="end" fill="#000" font-weight="normal" transform="rotate(-90 273.80 195.40)">nAChRb3</text>
<polyline points="277.45,193.40 277.45,189.40 279.85,189.40 279.85,193.40" fill="none" stroke="#b432e6" stroke-width="0.6"/>
<line x1="278.65" y1="187.40" x2="278.65" y2="191.40" stroke="#b432e6" stroke-width="0.95" stroke-linecap="butt"/>
<line x1="277.65" y1="187.40" x2="279.65" y2="187.40" stroke="#b432e6" stroke-width="0.8" stroke-linecap="butt"/>
<line x1="277.65" y1="191.40" x2="279.65" y2="191.40" stroke="#b432e6" stroke-width="0.8" stroke-linecap="butt"/>
<circle cx="278.65" cy="187.40" r="1.0" fill="#b432e6" stroke="none" stroke-width="1.0"/>
<circle cx="278.65" cy="190.40" r="1.0" fill="#b432e6" stroke="none" stroke-width="1.0"/>
<circle cx="278.65" cy="191.90" r="1.0" fill="#b432e6" stroke="none" stroke-width="1.0"/>
<polyline points="280.55,193.40 280.55,184.40 282.95,184.40 282.95,193.40" fill="none" stroke="#b432e6" stroke-width="0.6"/>
<line x1="281.75" y1="180.40" x2="281.75" y2="188.40" stroke="#b432e6" stroke-width="0.95" stroke-linecap="butt"/>
<line x1="280.75" y1="180.40" x2="282.75" y2="180.40" stroke="#b432e6" stroke-width="0.8" stroke-linecap="butt"/>
<line x1="280.75" y1="188.40" x2="282.75" y2="188.40" stroke="#b432e6" stroke-width="0.8" stroke-linecap="butt"/>
<circle cx="281.75" cy="173.40" r="1.0" fill="#b432e6" stroke="none" stroke-width="1.0"/>
<circle cx="281.75" cy="186.40" r="1.0" fill="#b432e6" stroke="none" stroke-width="1.0"/>
<circle cx="281.75" cy="190.90" r="1.0" fill="#b432e6" stroke="none" stroke-width="1.0"/>
<text x="282.80" y="195.40" font-size="7.3" text-anchor="end" fill="#000" font-weight="normal" transform="rotate(-90 282.80 195.40)">Oamb</text>
<polyline points="286.45,193.40 286.45,169.90 288.85,169.90 288.85,193.40" fill="none" stroke="#ff9433" stroke-width="0.6"/>
<line x1="287.65" y1="160.90" x2="287.65" y2="178.90" stroke="#ff9433" stroke-width="0.95" stroke-linecap="butt"/>
<line x1="286.65" y1="160.90" x2="288.65" y2="160.90" stroke="#ff9433" stroke-width="0.8" stroke-linecap="butt"/>
<line x1="286.65" y1="178.90" x2="288.65" y2="178.90" stroke="#ff9433" stroke-width="0.8" stroke-linecap="butt"/>
<circle cx="287.65" cy="164.40" r="1.0" fill="#ff9433" stroke="none" stroke-width="1.0"/>
<circle cx="287.65" cy="171.40" r="1.0" fill="#ff9433" stroke="none" stroke-width="1.0"/>
<circle cx="287.65" cy="183.40" r="1.0" fill="#ff9433" stroke="none" stroke-width="1.0"/>
<polyline points="289.55,193.40 289.55,156.40 291.95,156.40 291.95,193.40" fill="none" stroke="#ff9433" stroke-width="0.6"/>
<line x1="290.75" y1="151.40" x2="290.75" y2="161.40" stroke="#ff9433" stroke-width="0.95" stroke-linecap="butt"/>
<line x1="289.75" y1="151.40" x2="291.75" y2="151.40" stroke="#ff9433" stroke-width="0.8" stroke-linecap="butt"/>
<line x1="289.75" y1="161.40" x2="291.75" y2="161.40" stroke="#ff9433" stroke-width="0.8" stroke-linecap="butt"/>
<circle cx="290.75" cy="146.90" r="1.0" fill="#ff9433" stroke="none" stroke-width="1.0"/>
<circle cx="290.75" cy="157.40" r="1.0" fill="#ff9433" stroke="none" stroke-width="1.0"/>
<circle cx="290.75" cy="163.40" r="1.0" fill="#ff9433" stroke="none" stroke-width="1.0"/>
<text x="291.80" y="195.40" font-size="7.3" text-anchor="end" fill="#000" font-weight="normal" transform="rotate(-90 291.80 195.40)">Octalpha2R</text>
<line x1="295.15" y1="192.90" x2="298.15" y2="192.90" stroke="#111111" stroke-width="1.0" stroke-linecap="butt"/>
<circle cx="296.65" cy="191.90" r="1.0" fill="#111111" stroke="none" stroke-width="1.0"/>
<circle cx="296.65" cy="192.40" r="1.0" fill="#111111" stroke="none" stroke-width="1.0"/>
<polyline points="298.55,193.40 298.55,185.40 300.95,185.40 300.95,193.40" fill="none" stroke="#111111" stroke-width="0.6"/>
<line x1="299.75" y1="179.40" x2="299.75" y2="191.40" stroke="#111111" stroke-width="0.95" stroke-linecap="butt"/>
<line x1="298.75" y1="179.40" x2="300.75" y2="179.40" stroke="#111111" stroke-width="0.8" stroke-linecap="butt"/>
<line x1="298.75" y1="191.40" x2="300.75" y2="191.40" stroke="#111111" stroke-width="0.8" stroke-linecap="butt"/>
<circle cx="299.75" cy="173.40" r="1.0" fill="#111111" stroke="none" stroke-width="1.0"/>
<circle cx="299.75" cy="187.40" r="1.0" fill="#111111" stroke="none" stroke-width="1.0"/>
<circle cx="299.75" cy="190.90" r="1.0" fill="#111111" stroke="none" stroke-width="1.0"/>
<text x="300.80" y="195.40" font-size="7.3" text-anchor="end" fill="#000" font-weight="normal" transform="rotate(-90 300.80 195.40)">ort</text>
<polyline points="304.45,193.40 304.45,187.90 306.85,187.90 306.85,193.40" fill="none" stroke="#a8782c" stroke-width="0.6"/>
<line x1="305.65" y1="184.90" x2="305.65" y2="190.90" stroke="#a8782c" stroke-width="0.95" stroke-linecap="butt"/>
<line x1="304.65" y1="184.90" x2="306.65" y2="184.90" stroke="#a8782c" stroke-width="0.8" stroke-linecap="butt"/>
<line x1="304.65" y1="190.90" x2="306.65" y2="190.90" stroke="#a8782c" stroke-width="0.8" stroke-linecap="butt"/>
<circle cx="305.65" cy="182.40" r="1.0" fill="#a8782c" stroke="none" stroke-width="1.0"/>
<circle cx="305.65" cy="188.40" r="1.0" fill="#a8782c" stroke="none" stroke-width="1.0"/>
<circle cx="305.65" cy="191.40" r="1.0" fill="#a8782c" stroke="none" stroke-width="1.0"/>
<polyline points="307.55,193.40 307.55,185.40 309.95,185.40 309.95,193.40" fill="none" stroke="#a8782c" stroke-width="0.6"/>
<line x1="308.75" y1="181.90" x2="308.75" y2="188.90" stroke="#a8782c" stroke-width="0.95" stroke-linecap="butt"/>
<line x1="307.75" y1="181.90" x2="309.75" y2="181.90" stroke="#a8782c" stroke-width="0.8" stroke-linecap="butt"/>
<line x1="307.75" y1="188.90" x2="309.75" y2="188.90" stroke="#a8782c" stroke-width="0.8" stroke-linecap="butt"/>
<circle cx="308.75" cy="180.90" r="1.0" fill="#a8782c" stroke="none" stroke-width="1.0"/>
<circle cx="308.75" cy="185.40" r="1.0" fill="#a8782c" stroke="none" stroke-width="1.0"/>
<circle cx="308.75" cy="189.40" r="1.0" fill="#a8782c" stroke="none" stroke-width="1.0"/>
<text x="309.80" y="195.40" font-size="7.3" text-anchor="end" fill="#000" font-weight="normal" transform="rotate(-90 309.80 195.40)">Pdfr</text>
<polyline points="313.45,193.40 313.45,108.90 315.85,108.90 315.85,193.40" fill="none" stroke="#3232a4" stroke-width="0.6"/>
<line x1="314.65" y1="92.90" x2="314.65" y2="124.90" stroke="#3232a4" stroke-width="0.95" stroke-linecap="butt"/>
<line x1="313.65" y1="92.90" x2="315.65" y2="92.90" stroke="#3232a4" stroke-width="0.8" stroke-linecap="butt"/>
<line x1="313.65" y1="124.90" x2="315.65" y2="124.90" stroke="#3232a4" stroke-width="0.8" stroke-linecap="butt"/>
<circle cx="314.65" cy="87.40" r="1.0" fill="#3232a4" stroke="none" stroke-width="1.0"/>
<circle cx="314.65" cy="107.40" r="1.0" fill="#3232a4" stroke="none" stroke-width="1.0"/>
<circle cx="314.65" cy="138.40" r="1.0" fill="#3232a4" stroke="none" stroke-width="1.0"/>
<polyline points="316.55,193.40 316.55,102.40 318.95,102.40 318.95,193.40" fill="none" stroke="#3232a4" stroke-width="0.6"/>
<line x1="317.75" y1="77.40" x2="317.75" y2="127.40" stroke="#3232a4" stroke-width="0.95" stroke-linecap="butt"/>
<line x1="316.75" y1="77.40" x2="318.75" y2="77.40" stroke="#3232a4" stroke-width="0.8" stroke-linecap="butt"/>
<line x1="316.75" y1="127.40" x2="318.75" y2="127.40" stroke="#3232a4" stroke-width="0.8" stroke-linecap="butt"/>
<circle cx="317.75" cy="56.40" r="1.0" fill="#3232a4" stroke="none" stroke-width="1.0"/>
<circle cx="317.75" cy="99.40" r="1.0" fill="#3232a4" stroke="none" stroke-width="1.0"/>
<circle cx="317.75" cy="134.40" r="1.0" fill="#3232a4" stroke="none" stroke-width="1.0"/>
<text x="318.80" y="195.40" font-size="7.3" text-anchor="end" fill="#000" font-weight="normal" transform="rotate(-90 318.80 195.40)">Rdl</text>
<polyline points="322.45,193.40 322.45,185.40 324.85,185.40 324.85,193.40" fill="none" stroke="#84218a" stroke-width="0.6"/>
<line x1="323.65" y1="181.40" x2="323.65" y2="189.40" stroke="#84218a" stroke-width="0.95" stroke-linecap="butt"/>
<line x1="322.65" y1="181.40" x2="324.65" y2="181.40" stroke="#84218a" stroke-width="0.8" stroke-linecap="butt"/>
<line x1="322.65" y1="189.40" x2="324.65" y2="189.40" stroke="#84218a" stroke-width="0.8" stroke-linecap="butt"/>
<circle cx="323.65" cy="176.40" r="1.0" fill="#84218a" stroke="none" stroke-width="1.0"/>
<circle cx="323.65" cy="187.40" r="1.0" fill="#84218a" stroke="none" stroke-width="1.0"/>
<circle cx="323.65" cy="190.40" r="1.0" fill="#84218a" stroke="none" stroke-width="1.0"/>
<polyline points="325.55,193.40 325.55,189.90 327.95,189.90 327.95,193.40" fill="none" stroke="#84218a" stroke-width="0.6"/>
<line x1="326.75" y1="188.40" x2="326.75" y2="191.40" stroke="#84218a" stroke-width="0.95" stroke-linecap="butt"/>
<line x1="325.75" y1="188.40" x2="327.75" y2="188.40" stroke="#84218a" stroke-width="0.8" stroke-linecap="butt"/>
<line x1="325.75" y1="191.40" x2="327.75" y2="191.40" stroke="#84218a" stroke-width="0.8" stroke-linecap="butt"/>
<circle cx="326.75" cy="187.90" r="1.0" fill="#84218a" stroke="none" stroke-width="1.0"/>
<circle cx="326.75" cy="189.90" r="1.0" fill="#84218a" stroke="none" stroke-width="1.0"/>
<circle cx="326.75" cy="191.40" r="1.0" fill="#84218a" stroke="none" stroke-width="1.0"/>
<text x="327.80" y="195.40" font-size="7.3" text-anchor="end" fill="#000" font-weight="normal" transform="rotate(-90 327.80 195.40)">sNPF-R</text>
<polyline points="331.45,193.40 331.45,175.90 333.85,175.90 333.85,193.40" fill="none" stroke="#b4202c" stroke-width="0.6"/>
<line x1="332.65" y1="166.90" x2="332.65" y2="184.90" stroke="#b4202c" stroke-width="0.95" stroke-linecap="butt"/>
<line x1="331.65" y1="166.90" x2="333.65" y2="166.90" stroke="#b4202c" stroke-width="0.8" stroke-linecap="butt"/>
<line x1="331.65" y1="184.90" x2="333.65" y2="184.90" stroke="#b4202c" stroke-width="0.8" stroke-linecap="butt"/>
<circle cx="332.65" cy="164.40" r="1.0" fill="#b4202c" stroke="none" stroke-width="1.0"/>
<circle cx="332.65" cy="176.40" r="1.0" fill="#b4202c" stroke="none" stroke-width="1.0"/>
<circle cx="332.65" cy="188.40" r="1.0" fill="#b4202c" stroke="none" stroke-width="1.0"/>
<polyline points="334.55,193.40 334.55,158.90 336.95,158.90 336.95,193.40" fill="none" stroke="#b4202c" stroke-width="0.6"/>
<line x1="335.75" y1="141.90" x2="335.75" y2="175.90" stroke="#b4202c" stroke-width="0.95" stroke-linecap="butt"/>
<line x1="334.75" y1="141.90" x2="336.75" y2="141.90" stroke="#b4202c" stroke-width="0.8" stroke-linecap="butt"/>
<line x1="334.75" y1="175.90" x2="336.75" y2="175.90" stroke="#b4202c" stroke-width="0.8" stroke-linecap="butt"/>
<circle cx="335.75" cy="127.40" r="1.0" fill="#b4202c" stroke="none" stroke-width="1.0"/>
<circle cx="335.75" cy="163.40" r="1.0" fill="#b4202c" stroke="none" stroke-width="1.0"/>
<circle cx="335.75" cy="177.40" r="1.0" fill="#b4202c" stroke="none" stroke-width="1.0"/>
<circle cx="335.75" cy="188.40" r="1.0" fill="#b4202c" stroke="none" stroke-width="1.0"/>
<text x="336.80" y="195.40" font-size="7.3" text-anchor="end" fill="#000" font-weight="normal" transform="rotate(-90 336.80 195.40)">VAChT</text>
<polyline points="69.5,228.3 69.5,235.3 339.6,235.3 339.6,228.3" fill="none" stroke="#000" stroke-width="2.3" stroke-linejoin="miter"/>
<text x="199.60" y="247.70" font-size="9.04" text-anchor="middle" fill="#000" font-weight="normal">Neurotransmitter or Neuromodulator Receptor</text>
<line x1="411.50" y1="13.80" x2="411.50" y2="194.40" stroke="#000" stroke-width="2.0" stroke-linecap="butt"/>
<line x1="403.00" y1="193.50" x2="411.50" y2="193.50" stroke="#000" stroke-width="1.8" stroke-linecap="butt"/>
<text x="401.30" y="197.60" font-size="13.2" text-anchor="end" fill="#000" font-weight="normal">0</text>
<line x1="403.00" y1="133.90" x2="411.50" y2="133.90" stroke="#000" stroke-width="1.8" stroke-linecap="butt"/>
<text x="401.30" y="138.00" font-size="13.2" text-anchor="end" fill="#000" font-weight="normal">2000</text>
<line x1="403.00" y1="74.30" x2="411.50" y2="74.30" stroke="#000" stroke-width="1.8" stroke-linecap="butt"/>
<text x="401.30" y="78.40" font-size="13.2" text-anchor="end" fill="#000" font-weight="normal">4000</text>
<line x1="403.00" y1="14.70" x2="411.50" y2="14.70" stroke="#000" stroke-width="1.8" stroke-linecap="butt"/>
<text x="401.30" y="18.80" font-size="13.2" text-anchor="end" fill="#000" font-weight="normal">6000</text>
<text x="362.80" y="104.00" font-size="14.6" text-anchor="middle" fill="#000" font-weight="normal" transform="rotate(-90 362.80 104.00)">Counts (CPM)</text>
<polyline points="414.30,193.50 414.30,187.90 420.60,187.90 420.60,193.50" fill="none" stroke="#1f1fff" stroke-width="0.6"/>
<line x1="417.45" y1="184.70" x2="417.45" y2="191.10" stroke="#1f1fff" stroke-width="0.95" stroke-linecap="butt"/>
<line x1="415.85" y1="184.70" x2="419.05" y2="184.70" stroke="#1f1fff" stroke-width="0.8" stroke-linecap="butt"/>
<line x1="415.85" y1="191.10" x2="419.05" y2="191.10" stroke="#1f1fff" stroke-width="0.8" stroke-linecap="butt"/>
<circle cx="417.45" cy="183.00" r="0.95" fill="#1f1fff" stroke="none" stroke-width="1.0"/>
<circle cx="417.45" cy="188.50" r="0.95" fill="#1f1fff" stroke="none" stroke-width="1.0"/>
<circle cx="417.45" cy="192.00" r="0.95" fill="#1f1fff" stroke="none" stroke-width="1.0"/>
<polyline points="423.40,193.50 423.40,187.10 429.70,187.10 429.70,193.50" fill="none" stroke="#1f1fff" stroke-width="0.6"/>
<line x1="426.55" y1="180.80" x2="426.55" y2="193.20" stroke="#1f1fff" stroke-width="0.95" stroke-linecap="butt"/>
<line x1="424.95" y1="180.80" x2="428.15" y2="180.80" stroke="#1f1fff" stroke-width="0.8" stroke-linecap="butt"/>
<line x1="424.95" y1="193.20" x2="428.15" y2="193.20" stroke="#1f1fff" stroke-width="0.8" stroke-linecap="butt"/>
<circle cx="426.55" cy="176.00" r="0.95" fill="#1f1fff" stroke="none" stroke-width="1.0"/>
<circle cx="426.55" cy="187.50" r="0.95" fill="#1f1fff" stroke="none" stroke-width="1.0"/>
<circle cx="426.55" cy="192.50" r="0.95" fill="#1f1fff" stroke="none" stroke-width="1.0"/>
<text x="424.60" y="196.60" font-size="7.3" text-anchor="end" fill="#000" font-weight="normal" transform="rotate(-90 424.60 196.60)">ChAT</text>
<polyline points="439.07,193.50 439.07,79.30 445.37,79.30 445.37,193.50" fill="none" stroke="#ff2626" stroke-width="0.6"/>
<line x1="442.22" y1="64.80" x2="442.22" y2="93.80" stroke="#ff2626" stroke-width="0.95" stroke-linecap="butt"/>
<line x1="440.62" y1="64.80" x2="443.82" y2="64.80" stroke="#ff2626" stroke-width="0.8" stroke-linecap="butt"/>
<line x1="440.62" y1="93.80" x2="443.82" y2="93.80" stroke="#ff2626" stroke-width="0.8" stroke-linecap="butt"/>
<circle cx="442.22" cy="51.50" r="0.95" fill="#ff2626" stroke="none" stroke-width="1.0"/>
<circle cx="442.22" cy="88.50" r="0.95" fill="#ff2626" stroke="none" stroke-width="1.0"/>
<circle cx="442.22" cy="98.50" r="0.95" fill="#ff2626" stroke="none" stroke-width="1.0"/>
<polyline points="448.17,193.50 448.17,92.20 454.47,92.20 454.47,193.50" fill="none" stroke="#ff2626" stroke-width="0.6"/>
<line x1="451.32" y1="72.70" x2="451.32" y2="111.70" stroke="#ff2626" stroke-width="0.95" stroke-linecap="butt"/>
<line x1="449.72" y1="72.70" x2="452.92" y2="72.70" stroke="#ff2626" stroke-width="0.8" stroke-linecap="butt"/>
<line x1="449.72" y1="111.70" x2="452.92" y2="111.70" stroke="#ff2626" stroke-width="0.8" stroke-linecap="butt"/>
<circle cx="451.32" cy="58.00" r="0.95" fill="#ff2626" stroke="none" stroke-width="1.0"/>
<circle cx="451.32" cy="93.00" r="0.95" fill="#ff2626" stroke="none" stroke-width="1.0"/>
<circle cx="451.32" cy="125.50" r="0.95" fill="#ff2626" stroke="none" stroke-width="1.0"/>
<text x="449.37" y="196.60" font-size="7.3" text-anchor="end" fill="#000" font-weight="normal" transform="rotate(-90 449.37 196.60)">Gad1</text>
<polyline points="463.89,193.50 463.89,187.90 470.09,187.90 470.09,193.50" fill="none" stroke="#a6e8a6" stroke-width="0.8"/>
<path d="M463.59,187.00 L470.39,187.00 L470.19,188.50 L468.79,188.90 L467.39,190.20 L465.79,188.70 L463.69,188.80 Z" fill="#21c321"/>
<path d="M472.79,193.50 L473.09,192.30 L474.49,191.70 L475.49,190.60 L476.59,191.18 L477.69,190.75 L479.09,192.30 L479.39,193.50 Z" fill="#21c321" stroke="#21c321" stroke-width="0.5" stroke-linejoin="round"/>
<text x="474.14" y="196.60" font-size="7.3" text-anchor="end" fill="#000" font-weight="normal" transform="rotate(-90 474.14 196.60)">GLS</text>
<circle cx="489.66" cy="192.75" r="0.85" fill="#b432e6" stroke="none" stroke-width="1.0"/>
<circle cx="491.76" cy="192.75" r="0.85" fill="#b432e6" stroke="none" stroke-width="1.0"/>
<circle cx="493.86" cy="192.75" r="0.85" fill="#b432e6" stroke="none" stroke-width="1.0"/>
<path d="M497.56,193.50 L497.86,192.30 L499.26,192.14 L500.26,191.30 L501.36,191.74 L502.46,191.41 L503.86,192.30 L504.16,193.50 Z" fill="#b432e6" stroke="#b432e6" stroke-width="0.5" stroke-linejoin="round"/>
<text x="498.91" y="196.60" font-size="7.3" text-anchor="end" fill="#000" font-weight="normal" transform="rotate(-90 498.91 196.60)">Hdc</text>
<path d="M513.23,193.50 L513.53,192.30 L514.93,192.41 L515.93,191.75 L517.03,192.10 L518.13,191.84 L519.53,192.30 L519.83,193.50 Z" fill="#ff8c1f" stroke="#ff8c1f" stroke-width="0.5" stroke-linejoin="round"/>
<path d="M522.33,193.50 L522.63,192.30 L524.03,191.70 L525.03,190.60 L526.13,191.18 L527.23,190.75 L528.63,192.30 L528.93,193.50 Z" fill="#ff8c1f" stroke="#ff8c1f" stroke-width="0.5" stroke-linejoin="round"/>
<text x="523.68" y="196.60" font-size="7.3" text-anchor="end" fill="#000" font-weight="normal" transform="rotate(-90 523.68 196.60)">Pdf</text>
<path d="M538.00,193.50 L538.30,192.30 L539.70,190.96 L540.70,189.40 L541.80,190.22 L542.90,189.60 L544.30,192.30 L544.60,193.50 Z" fill="#111111" stroke="#111111" stroke-width="0.5" stroke-linejoin="round"/>
<path d="M547.10,193.50 L547.40,192.30 L548.80,191.52 L549.80,190.30 L550.90,190.94 L552.00,190.46 L553.40,192.30 L553.70,193.50 Z" fill="#111111" stroke="#111111" stroke-width="0.5" stroke-linejoin="round"/>
<text x="548.45" y="196.60" font-size="7.3" text-anchor="end" fill="#000" font-weight="normal" transform="rotate(-90 548.45 196.60)">ple</text>
<polyline points="562.92,193.50 562.92,161.30 569.22,161.30 569.22,193.50" fill="none" stroke="#a8782c" stroke-width="0.6"/>
<line x1="566.07" y1="156.00" x2="566.07" y2="166.60" stroke="#a8782c" stroke-width="0.95" stroke-linecap="butt"/>
<line x1="564.47" y1="156.00" x2="567.67" y2="156.00" stroke="#a8782c" stroke-width="0.8" stroke-linecap="butt"/>
<line x1="564.47" y1="166.60" x2="567.67" y2="166.60" stroke="#a8782c" stroke-width="0.8" stroke-linecap="butt"/>
<circle cx="566.07" cy="151.00" r="0.95" fill="#a8782c" stroke="none" stroke-width="1.0"/>
<circle cx="566.07" cy="165.50" r="0.95" fill="#a8782c" stroke="none" stroke-width="1.0"/>
<circle cx="566.07" cy="168.50" r="0.95" fill="#a8782c" stroke="none" stroke-width="1.0"/>
<polyline points="572.02,193.50 572.02,178.50 578.32,178.50 578.32,193.50" fill="none" stroke="#a8782c" stroke-width="0.6"/>
<line x1="575.17" y1="170.30" x2="575.17" y2="186.70" stroke="#a8782c" stroke-width="0.95" stroke-linecap="butt"/>
<line x1="573.57" y1="170.30" x2="576.77" y2="170.30" stroke="#a8782c" stroke-width="0.8" stroke-linecap="butt"/>
<line x1="573.57" y1="186.70" x2="576.77" y2="186.70" stroke="#a8782c" stroke-width="0.8" stroke-linecap="butt"/>
<circle cx="575.17" cy="166.00" r="0.95" fill="#a8782c" stroke="none" stroke-width="1.0"/>
<circle cx="575.17" cy="174.00" r="0.95" fill="#a8782c" stroke="none" stroke-width="1.0"/>
<circle cx="575.17" cy="192.50" r="0.95" fill="#a8782c" stroke="none" stroke-width="1.0"/>
<text x="573.22" y="196.60" font-size="7.3" text-anchor="end" fill="#000" font-weight="normal" transform="rotate(-90 573.22 196.60)">sNPF</text>
<circle cx="588.74" cy="192.75" r="0.85" fill="#2424b4" stroke="none" stroke-width="1.0"/>
<circle cx="590.84" cy="192.75" r="0.85" fill="#2424b4" stroke="none" stroke-width="1.0"/>
<circle cx="592.94" cy="192.75" r="0.85" fill="#2424b4" stroke="none" stroke-width="1.0"/>
<circle cx="597.84" cy="192.75" r="0.85" fill="#2424b4" stroke="none" stroke-width="1.0"/>
<circle cx="599.94" cy="192.75" r="0.85" fill="#2424b4" stroke="none" stroke-width="1.0"/>
<circle cx="602.04" cy="192.75" r="0.85" fill="#2424b4" stroke="none" stroke-width="1.0"/>
<text x="597.99" y="196.60" font-size="7.3" text-anchor="end" fill="#000" font-weight="normal" transform="rotate(-90 597.99 196.60)">Tdc1</text>
<circle cx="613.51" cy="192.75" r="0.85" fill="#84218a" stroke="none" stroke-width="1.0"/>
<circle cx="615.61" cy="192.75" r="0.85" fill="#84218a" stroke="none" stroke-width="1.0"/>
<circle cx="617.71" cy="192.75" r="0.85" fill="#84218a" stroke="none" stroke-width="1.0"/>
<path d="M621.41,193.50 L621.71,192.30 L623.11,191.45 L624.11,190.20 L625.21,190.86 L626.31,190.37 L627.71,192.30 L628.01,193.50 Z" fill="#84218a" stroke="#84218a" stroke-width="0.5" stroke-linejoin="round"/>
<text x="622.76" y="196.60" font-size="7.3" text-anchor="end" fill="#000" font-weight="normal" transform="rotate(-90 622.76 196.60)">Tdc2</text>
<path d="M637.08,193.50 L637.38,192.30 L638.78,192.26 L639.78,191.50 L640.88,191.90 L641.98,191.60 L643.38,192.30 L643.68,193.50 Z" fill="#b4202c" stroke="#b4202c" stroke-width="0.5" stroke-linejoin="round"/>
<polyline points="646.33,193.50 646.33,184.90 652.63,184.90 652.63,193.50" fill="none" stroke="#b4202c" stroke-width="0.6"/>
<line x1="649.48" y1="177.10" x2="649.48" y2="192.70" stroke="#b4202c" stroke-width="0.95" stroke-linecap="butt"/>
<line x1="647.88" y1="177.10" x2="651.08" y2="177.10" stroke="#b4202c" stroke-width="0.8" stroke-linecap="butt"/>
<line x1="647.88" y1="192.70" x2="651.08" y2="192.70" stroke="#b4202c" stroke-width="0.8" stroke-linecap="butt"/>
<circle cx="649.48" cy="171.00" r="0.95" fill="#b4202c" stroke="none" stroke-width="1.0"/>
<circle cx="649.48" cy="191.50" r="0.95" fill="#b4202c" stroke="none" stroke-width="1.0"/>
<circle cx="649.48" cy="192.50" r="0.95" fill="#b4202c" stroke="none" stroke-width="1.0"/>
<text x="647.53" y="196.60" font-size="7.3" text-anchor="end" fill="#000" font-weight="normal" transform="rotate(-90 647.53 196.60)">Trh</text>
<path d="M661.85,193.50 L662.15,192.30 L663.55,192.38 L664.55,191.70 L665.65,192.06 L666.75,191.79 L668.15,192.30 L668.45,193.50 Z" fill="#1d7a34" stroke="#1d7a34" stroke-width="0.5" stroke-linejoin="round"/>
<path d="M670.95,193.50 L671.25,192.30 L672.65,192.01 L673.65,191.10 L674.75,191.58 L675.85,191.22 L677.25,192.30 L677.55,193.50 Z" fill="#1d7a34" stroke="#1d7a34" stroke-width="0.5" stroke-linejoin="round"/>
<text x="672.30" y="196.60" font-size="7.3" text-anchor="end" fill="#000" font-weight="normal" transform="rotate(-90 672.30 196.60)">trh</text>
<polyline points="415.1,226.2 415.1,233.6 683,233.6 683,226.2" fill="none" stroke="#000" stroke-width="2.3" stroke-linejoin="miter"/>
<text x="560.70" y="245.20" font-size="9.06" text-anchor="middle" fill="#000" font-weight="normal">Neurotransmitter or Neuromodulator Rate-limiting Enzyme</text>
</g>
<g id="panel-b">
<text x="25.00" y="283.00" font-size="14.25" text-anchor="start" fill="#000" font-weight="normal">23E10, 201y &gt; 5HT1A RNAi ± 8OHDPAT</text>
<line x1="25.00" y1="285.20" x2="283.00" y2="285.20" stroke="#000" stroke-width="0.9" stroke-linecap="butt"/>
<text x="-2.40" y="311.70" font-size="20" text-anchor="start" fill="#000" font-weight="bold">b</text>
<text x="158.60" y="307.80" font-size="14.05" text-anchor="middle" fill="#000" font-weight="normal">Sleep Quantification</text>
<line x1="15.60" y1="314.20" x2="297.70" y2="314.20" stroke="#000" stroke-width="2.2" stroke-linecap="round"/>
<line x1="53.10" y1="343.45" x2="53.10" y2="515.30" stroke="#000" stroke-width="2.0" stroke-linecap="butt"/>
<line x1="45.00" y1="514.90" x2="52.90" y2="514.90" stroke="#000" stroke-width="1.8" stroke-linecap="butt"/>
<text x="43.60" y="519.70" font-size="12.6" text-anchor="end" fill="#000" font-weight="normal">0</text>
<line x1="45.00" y1="457.95" x2="52.90" y2="457.95" stroke="#000" stroke-width="1.8" stroke-linecap="butt"/>
<text x="43.60" y="462.75" font-size="12.6" text-anchor="end" fill="#000" font-weight="normal">10</text>
<line x1="45.00" y1="401.00" x2="52.90" y2="401.00" stroke="#000" stroke-width="1.8" stroke-linecap="butt"/>
<text x="43.60" y="405.80" font-size="12.6" text-anchor="end" fill="#000" font-weight="normal">20</text>
<line x1="45.00" y1="344.05" x2="52.90" y2="344.05" stroke="#000" stroke-width="1.8" stroke-linecap="butt"/>
<text x="43.60" y="348.85" font-size="12.6" text-anchor="end" fill="#000" font-weight="normal">30</text>
<text x="19.20" y="429.80" font-size="14.2" text-anchor="middle" fill="#000" font-weight="normal" transform="rotate(-90 19.20 429.80)">Sleep per 30 minutes</text>
<polyline points="54.1,409.5 55.0,410.8 56.3,420.8 57.5,408.3 58.8,413.3 61.3,428.1 62.5,447.9 64.6,474.3 66.6,496.6 67.8,505.9 68.6,508.1 69.6,498.6 71.3,450.9 73.1,388.2 74.6,350.5 76.3,346.8 80.1,348.0 83.9,346.3 87.6,347.5 91.4,346.5 95.2,348.0 98.9,347.0 101.4,348.0 103.2,400.7 104.5,438.4 105.7,466.0 106.7,443.4 107.7,413.3 108.7,388.2 110.2,368.1 111.5,359.1 113.5,351.3 116.0,349.8 118.8,350.5 121.3,352.6 123.3,360.6 125.3,381.7 127.3,406.8 128.5,425.8 129.8,431.9 130.6,447.9 131.9,467.7 133.3,487.6 134.6,504.6 135.8,512.7 137.3,512.9 138.3,488.6 140.3,384.3 141.6,364.4 142.9,358.5 145.6,357.8 147.6,359.8 149.5,357.2 151.5,357.8 153.5,360.5 154.8,361.1 156.8,357.8 158.1,362.4 159.4,356.5 161.4,360.5 163.4,364.4 164.7,375.0 166.1,364.4 168.0,353.9 169.1,371.0 170.0,404.1 171.3,437.1 172.4,463.5 173.3,482.2 174.2,463.5 175.3,441.1 176.0,422.6 177.9,400.1 179.9,384.3 181.5,376.3 182.8,377.6 184.6,368.4 186.5,371.0 187.9,373.0 189.8,374.3 191.8,381.6 193.1,393.5 194.5,405.4 195.8,419.9 197.1,438.0 197.8,454.4 199.8,478.2 201.7,499.4 203.7,509.9 205.0,509.9 206.4,494.1 207.4,467.6 207.9,438.0 208.3,417.3 209.7,409.4 211.6,394.8 213.6,386.9 215.6,381.6 217.6,380.3 218.9,388.2 220.9,384.3 224.0,379.6 225.9,382.9 227.7,379.0 229.3,382.9 231.2,384.3 232.2,394.8 233.9,383.6 235.9,383.6 237.2,394.8 237.8,401.4 238.5,428.0 239.3,456.9 240.1,490.0 240.9,503.3 241.8,496.6 243.1,490.1 245.1,476.9 247.1,461.0 248.4,442.5 249.7,434.6 251.1,428.0 252.4,419.9 253.7,416.0 255.7,412.0 257.7,412.7 259.0,417.3 260.3,426.5 261.6,421.3 262.9,430.5 264.3,441.2 266.3,461.0 268.2,480.9 269.6,494.1 271.5,494.1 272.9,499.4 274.2,499.4 275.2,480.9 276.8,461.0 278.8,443.9 280.8,430.5 282.1,419.9 283.4,405.4 284.8,404.1 285.4,388.2 286.7,390.9 288.1,398.8 289.4,392.2 290.7,404.1 291.8,408.0 292.7,396.1 293.7,408.0 295.3,386.9 297.3,387.6 299.3,389.5 301.3,394.8 302.6,396.1 304.3,390.2 305.9,398.8 307.2,407.4" fill="none" stroke="#ff8080" stroke-width="1.65" stroke-linejoin="round" stroke-linecap="round"/>
<polyline points="54.1,388.2 55.0,380.7 57.0,375.6 59.5,376.9 61.3,383.2 63.8,420.8 65.6,468.5 67.6,501.1 69.6,488.6 71.3,425.8 72.6,368.1 73.3,346.8 75.1,345.0 80.1,345.5 85.1,345.0 90.2,345.8 95.2,345.0 101.4,345.5 102.7,350.5 104.0,375.6 105.5,373.1 106.7,370.6 108.2,353.8 110.7,349.3 114.7,346.0 118.8,346.0 122.0,348.0 125.3,351.3 127.3,360.6 129.3,377.6 131.8,401.5 134.6,430.6 136.1,478.5 136.8,501.1 137.8,478.5 139.6,377.6 140.3,351.2 142.9,350.6 145.6,347.3 148.2,346.6 150.2,349.9 152.2,348.6 154.8,345.9 157.5,346.6 160.1,345.3 162.1,349.9 163.4,352.5 165.4,349.9 167.4,351.9 169.6,351.2 170.4,371.0 171.3,404.1 171.7,420.7 172.4,404.1 173.3,377.6 174.6,361.8 177.3,356.5 179.3,353.9 181.9,353.2 184.6,349.9 187.2,348.6 189.2,345.9 191.2,347.9 193.1,352.5 195.1,354.5 196.8,353.9 198.4,371.0 200.4,397.5 201.7,430.5 202.4,454.4 203.5,480.9 204.4,467.6 205.3,430.5 207.0,404.1 208.3,364.4 211.0,349.9 213.0,357.8 215.0,364.4 216.9,360.5 219.6,356.5 222.2,355.2 222.6,352.5 224.6,348.6 226.6,345.9 227.9,351.2 229.3,347.3 231.2,345.9 232.6,355.2 233.9,360.5 235.2,355.2 236.5,363.1 238.5,397.5 239.8,430.5 240.6,439.8 241.4,430.5 242.5,397.5 243.8,364.4 245.1,353.9 246.4,351.2 247.8,357.8 249.7,352.5 251.7,347.3 253.7,347.3 255.7,352.5 257.7,350.6 259.6,351.2 261.6,349.9 263.6,352.5 264.9,361.8 266.0,373.7 266.9,390.9 268.2,412.0 269.2,430.5 270.2,454.4 271.5,480.9 272.6,484.8 273.5,467.6 274.8,441.2 276.2,428.0 277.1,417.3 278.1,390.9 279.5,368.4 280.8,372.4 282.1,381.6 283.4,381.6 284.8,371.0 286.1,364.4 288.1,371.0 289.4,376.3 290.7,368.4 292.0,363.1 293.3,360.5 295.3,367.1 297.3,361.8 298.6,363.1 300.0,372.4 301.9,373.7 303.9,371.0 305.9,365.8 307.2,364.4" fill="none" stroke="#ffdcdc" stroke-width="1.65" stroke-linejoin="round" stroke-linecap="round"/>
<polyline points="54.1,459.7 55.3,445.2 56.6,455.7 57.7,470.2 59.3,471.5 61.2,480.8 63.2,490.1 64.5,501.9 66.5,510.6 67.8,513.2 69.2,509.9 70.5,494.1 71.8,467.7 72.7,441.1 73.5,428.1 74.3,400.7 75.1,375.6 76.1,358.1 77.1,353.1 78.9,348.0 81.4,350.0 83.9,346.8 87.6,346.8 90.2,348.0 92.7,355.6 95.2,354.3 97.7,360.6 100.2,358.1 101.9,360.6 102.7,368.1 103.5,428.1 103.5,467.7 104.2,488.8 105.5,499.9 106.6,499.4 107.5,480.8 108.8,447.9 109.7,435.9 111.5,400.7 114.0,380.7 115.5,371.1 116.8,369.6 118.0,363.1 119.0,362.3 120.0,367.1 121.3,381.7 122.8,401.5 124.0,423.3 125.0,435.9 126.0,447.9 128.0,474.3 129.3,491.3 131.3,504.6 133.3,512.7 136.6,513.9 137.0,513.9 137.9,494.1 139.0,454.4 139.8,428.0 140.6,404.1 141.3,390.9 142.3,380.3 143.6,373.7 145.6,373.0 146.9,367.7 148.2,367.7 149.5,372.4 150.9,373.7 152.2,386.9 153.8,394.8 155.1,382.9 156.8,371.0 158.1,389.5 159.4,369.7 160.8,371.0 162.1,373.7 163.4,384.3 164.7,385.6 166.1,375.0 167.4,366.4 169.1,365.1 170.0,363.8 170.7,390.9 171.3,428.0 171.7,451.8 172.3,483.5 173.7,506.6 175.3,491.4 177.3,470.3 179.3,466.3 180.6,451.8 181.9,423.9 183.2,413.3 184.6,409.4 186.5,409.4 187.9,404.1 189.2,413.3 190.5,400.1 191.8,402.8 192.9,417.3 193.1,430.5 193.8,441.2 195.8,462.4 198.4,483.5 201.1,498.0 203.1,508.6 204.4,502.0 205.7,508.6 207.0,507.3 207.7,491.4 209.7,484.8 211.0,467.6 212.3,447.8 213.2,430.5 213.6,423.9 214.7,418.0 215.9,423.9 217.6,429.2 219.6,427.9 221.6,422.6 224.0,414.6 225.9,417.3 227.3,394.8 229.3,406.7 231.2,405.4 233.2,397.5 234.8,413.3 236.5,414.6 237.4,401.4 238.2,423.9 238.5,430.5 239.2,454.4 239.8,487.5 240.5,503.3 241.8,511.3 243.1,496.7 243.8,488.8 245.8,478.2 247.8,466.3 248.8,463.7 249.7,470.3 250.4,475.6 251.1,454.4 252.4,438.6 253.0,419.9 254.6,402.8 256.3,397.5 257.7,377.6 259.0,369.7 260.3,394.8 261.6,380.3 262.9,402.8 264.3,375.0 266.3,374.3 266.5,393.5 267.6,412.0 269.6,422.6 270.9,430.5 272.2,441.2 273.3,457.1 273.9,474.2 274.8,467.6 275.5,447.8 276.2,423.9 277.1,390.9 278.1,364.4 279.1,348.6 280.1,345.3 304.6,345.3 305.9,348.6 307.2,352.5" fill="none" stroke="#ff9f40" stroke-width="1.65" stroke-linejoin="round" stroke-linecap="round"/>
<polyline points="54.1,393.2 55.0,375.6 57.0,367.6 59.5,369.4 61.3,378.2 63.0,413.3 64.6,438.4 66.6,468.5 68.1,488.6 69.3,499.9 70.1,488.6 70.8,450.9 71.6,413.3 72.6,375.6 73.8,350.5 75.1,346.8 77.6,349.3 80.1,347.0 83.9,348.5 87.6,346.5 90.2,347.5 92.7,354.3 94.7,353.1 96.2,358.1 97.7,361.8 99.7,358.6 101.2,362.6 102.2,361.8 103.2,388.2 104.2,420.8 106.2,390.7 108.2,364.3 110.2,360.6 112.2,355.1 114.7,351.3 117.5,355.1 120.0,357.8 122.8,361.8 126.0,380.2 128.0,386.9 130.6,404.0 133.3,420.8 135.3,430.8 136.6,454.4 137.2,480.8 137.8,498.6 138.6,488.6 139.0,390.9 140.0,352.5 142.3,351.2 144.3,355.2 146.2,350.6 148.2,353.9 150.2,354.5 151.5,361.1 153.5,366.4 155.5,362.4 156.8,365.8 158.8,372.4 160.8,384.3 162.8,396.1 164.7,386.9 166.7,386.9 168.7,371.0 170.0,364.4 170.7,390.9 171.7,430.5 172.5,450.5 173.3,430.5 174.6,404.1 176.6,384.3 177.9,373.7 179.9,376.3 181.9,372.4 183.9,369.7 186.5,366.4 187.9,369.1 189.2,376.3 191.2,372.4 193.1,368.4 195.1,380.3 197.1,384.3 198.4,377.6 200.4,397.5 202.4,417.3 203.5,441.1 204.4,453.1 205.7,447.8 207.0,428.0 207.7,404.1 208.3,355.2 209.7,353.9 211.0,372.4 213.0,375.0 214.3,390.9 215.9,377.6 217.6,360.5 219.6,371.0 221.6,377.6 222.6,364.4 224.0,353.9 225.3,345.9 227.3,349.9 228.6,345.9 230.6,347.3 231.9,345.9 232.6,364.4 233.9,365.8 235.2,351.2 236.5,361.8 237.8,364.4 238.5,384.3 239.8,404.1 241.1,430.5 241.8,438.0 242.7,423.9 244.4,390.9 245.4,384.3 247.1,404.1 248.4,430.5 249.3,443.7 250.4,417.3 251.5,377.6 252.4,351.2 253.7,346.6 255.0,351.2 255.9,376.3 257.0,371.0 258.3,364.4 259.6,357.8 261.2,349.9 262.3,351.2 263.6,364.4 264.9,390.9 265.6,396.1 266.3,394.8 267.6,412.0 268.9,413.3 270.2,438.0 271.5,449.1 272.5,456.9 273.3,443.7 274.4,404.1 275.5,381.6 276.8,365.8 278.1,381.6 279.5,390.9 280.8,385.6 282.1,379.0 283.4,401.4 284.8,402.8 285.4,361.8 286.7,377.6 288.1,345.9 289.0,364.4 290.0,375.0 291.4,364.4 292.7,360.5 294.0,345.9 295.3,361.8 296.6,357.8 298.0,369.7 299.3,385.6 300.6,371.0 301.9,377.6 303.3,388.2 304.6,364.4 305.9,371.0 307.2,377.6" fill="none" stroke="#fedcbc" stroke-width="1.65" stroke-linejoin="round" stroke-linecap="round"/>
<rect x="53.00" y="516.10" width="255.60" height="9.90" fill="#000" stroke="none" stroke-width="1.0"/>
<rect x="54.90" y="517.90" width="13.20" height="6.50" fill="#fff" stroke="none" stroke-width="1.0"/>
<rect x="105.10" y="517.90" width="29.20" height="6.50" fill="#fff" stroke="none" stroke-width="1.0"/>
<rect x="172.80" y="517.90" width="32.80" height="6.50" fill="#fff" stroke="none" stroke-width="1.0"/>
<rect x="242.80" y="517.90" width="29.20" height="6.50" fill="#fff" stroke="none" stroke-width="1.0"/>
<text x="185.50" y="543.40" font-size="14.3" text-anchor="middle" fill="#000" font-weight="normal">Time of Day (ZT)</text>
<line x1="32.30" y1="552.60" x2="52.30" y2="552.60" stroke="#fedcbc" stroke-width="1.8" stroke-linecap="butt"/>
<text x="61.60" y="556.20" font-size="8.15" text-anchor="start" fill="#000" font-weight="normal">23E10, 201y + veh</text>
<line x1="32.30" y1="563.80" x2="52.00" y2="563.80" stroke="#ffdcdc" stroke-width="1.8" stroke-linecap="butt"/>
<text x="61.60" y="566.80" font-size="8.15" text-anchor="start" fill="#000" font-weight="normal">23E10, 201y&gt;5HT1A RNAi +veh</text>
<line x1="191.40" y1="552.60" x2="210.70" y2="552.60" stroke="#ff9f40" stroke-width="1.8" stroke-linecap="butt"/>
<text x="219.70" y="556.20" font-size="8.15" text-anchor="start" fill="#000" font-weight="normal">23E10, 201y + 8OHDPAT</text>
<line x1="193.00" y1="563.80" x2="212.30" y2="563.80" stroke="#ff8080" stroke-width="1.8" stroke-linecap="butt"/>
<text x="221.70" y="566.80" font-size="8.15" text-anchor="start" fill="#000" font-weight="normal">23E10, 201y&gt;5HT1A RNAi + 8OHDPAT</text>
</g>
<g id="panel-c">
<text x="320.50" y="308.60" font-size="20" text-anchor="start" fill="#000" font-weight="bold">c</text>
<text x="488.00" y="307.80" font-size="13.95" text-anchor="middle" fill="#000" font-weight="normal">Seizure Quantification</text>
<line x1="339.90" y1="314.30" x2="622.70" y2="314.30" stroke="#000" stroke-width="2.2" stroke-linecap="round"/>
<text x="339.70" y="330.00" font-size="14.1" text-anchor="start" fill="#fedcbc" font-weight="normal">23E10, 201y + veh</text>
<text x="612.90" y="332.00" font-size="14.1" text-anchor="start" fill="#fedcbc" font-weight="normal"><tspan font-family="Liberation Serif, serif">Σ</tspan> = 94</text>
<rect x="344.00" y="371.70" width="5.80" height="15.20" fill="#fedcbc"/>
<rect x="350.30" y="348.90" width="5.80" height="38.00" fill="#fedcbc"/>
<rect x="356.60" y="341.30" width="5.80" height="45.60" fill="#fedcbc"/>
<rect x="362.90" y="371.70" width="5.80" height="15.20" fill="#fedcbc"/>
<rect x="369.20" y="341.30" width="5.80" height="45.60" fill="#fedcbc"/>
<rect x="375.50" y="341.30" width="5.80" height="45.60" fill="#fedcbc"/>
<rect x="381.80" y="333.70" width="5.80" height="53.20" fill="#fedcbc"/>
<rect x="388.10" y="356.50" width="5.80" height="30.40" fill="#fedcbc"/>
<rect x="394.40" y="356.50" width="5.80" height="30.40" fill="#fedcbc"/>
<rect x="400.70" y="371.70" width="5.80" height="15.20" fill="#fedcbc"/>
<rect x="407.00" y="379.30" width="5.80" height="7.60" fill="#fedcbc"/>
<rect x="413.30" y="371.70" width="5.80" height="15.20" fill="#fedcbc"/>
<rect x="419.60" y="379.30" width="5.80" height="7.60" fill="#fedcbc"/>
<rect x="425.90" y="371.70" width="5.80" height="15.20" fill="#fedcbc"/>
<rect x="432.20" y="371.70" width="5.80" height="15.20" fill="#fedcbc"/>
<rect x="438.50" y="371.70" width="5.80" height="15.20" fill="#fedcbc"/>
<rect x="444.80" y="371.70" width="5.80" height="15.20" fill="#fedcbc"/>
<rect x="451.10" y="364.10" width="5.80" height="22.80" fill="#fedcbc"/>
<rect x="457.40" y="364.10" width="5.80" height="22.80" fill="#fedcbc"/>
<rect x="463.70" y="364.10" width="5.80" height="22.80" fill="#fedcbc"/>
<rect x="470.00" y="371.70" width="5.80" height="15.20" fill="#fedcbc"/>
<rect x="476.30" y="364.10" width="5.80" height="22.80" fill="#fedcbc"/>
<rect x="482.60" y="371.70" width="5.80" height="15.20" fill="#fedcbc"/>
<rect x="488.90" y="379.30" width="5.80" height="7.60" fill="#fedcbc"/>
<rect x="495.20" y="379.30" width="5.80" height="7.60" fill="#fedcbc"/>
<rect x="501.50" y="379.30" width="5.80" height="7.60" fill="#fedcbc"/>
<rect x="507.80" y="379.30" width="5.80" height="7.60" fill="#fedcbc"/>
<rect x="514.10" y="379.30" width="5.80" height="7.60" fill="#fedcbc"/>
<rect x="520.40" y="379.30" width="5.80" height="7.60" fill="#fedcbc"/>
<rect x="526.70" y="379.30" width="5.80" height="7.60" fill="#fedcbc"/>
<rect x="533.00" y="371.70" width="5.80" height="15.20" fill="#fedcbc"/>
<rect x="539.30" y="371.70" width="5.80" height="15.20" fill="#fedcbc"/>
<rect x="545.70" y="385.00" width="5.60" height="1.9" fill="#fedcbc"/>
<rect x="551.90" y="379.30" width="5.80" height="7.60" fill="#fedcbc"/>
<rect x="558.30" y="385.00" width="5.60" height="1.9" fill="#fedcbc"/>
<rect x="564.50" y="379.30" width="5.80" height="7.60" fill="#fedcbc"/>
<rect x="570.90" y="385.00" width="5.60" height="1.9" fill="#fedcbc"/>
<rect x="577.20" y="385.00" width="5.60" height="1.9" fill="#fedcbc"/>
<rect x="583.50" y="385.00" width="5.60" height="1.9" fill="#fedcbc"/>
<rect x="589.70" y="379.30" width="5.80" height="7.60" fill="#fedcbc"/>
<rect x="596.00" y="379.30" width="5.80" height="7.60" fill="#fedcbc"/>
<rect x="602.30" y="379.30" width="5.80" height="7.60" fill="#fedcbc"/>
<rect x="608.60" y="379.30" width="5.80" height="7.60" fill="#fedcbc"/>
<rect x="615.00" y="385.00" width="5.60" height="1.9" fill="#fedcbc"/>
<rect x="621.20" y="379.30" width="5.80" height="7.60" fill="#fedcbc"/>
<rect x="627.50" y="371.70" width="5.80" height="15.20" fill="#fedcbc"/>
<rect x="633.80" y="379.30" width="5.80" height="7.60" fill="#fedcbc"/>
<rect x="640.10" y="379.30" width="5.80" height="7.60" fill="#fedcbc"/>
<text x="339.70" y="401.70" font-size="14.1" text-anchor="start" fill="#ff9f40" font-weight="normal">23E10, 201y + 8OHDPAT</text>
<text x="612.90" y="405.20" font-size="14.1" text-anchor="start" fill="#ff9f40" font-weight="normal"><tspan font-family="Liberation Serif, serif">Σ</tspan> = 37</text>
<rect x="343.80" y="437.00" width="5.60" height="1.9" fill="#ff9f40"/>
<rect x="350.10" y="437.00" width="5.60" height="1.9" fill="#ff9f40"/>
<rect x="356.40" y="437.00" width="5.60" height="1.9" fill="#ff9f40"/>
<rect x="362.70" y="437.00" width="5.60" height="1.9" fill="#ff9f40"/>
<rect x="368.90" y="431.45" width="5.80" height="7.45" fill="#ff9f40"/>
<rect x="375.20" y="409.10" width="5.80" height="29.80" fill="#ff9f40"/>
<rect x="381.50" y="424.00" width="5.80" height="14.90" fill="#ff9f40"/>
<rect x="387.80" y="424.00" width="5.80" height="14.90" fill="#ff9f40"/>
<rect x="394.10" y="416.55" width="5.80" height="22.35" fill="#ff9f40"/>
<rect x="400.40" y="416.55" width="5.80" height="22.35" fill="#ff9f40"/>
<rect x="406.70" y="424.00" width="5.80" height="14.90" fill="#ff9f40"/>
<rect x="413.00" y="431.45" width="5.80" height="7.45" fill="#ff9f40"/>
<rect x="419.40" y="437.00" width="5.60" height="1.9" fill="#ff9f40"/>
<rect x="425.60" y="431.45" width="5.80" height="7.45" fill="#ff9f40"/>
<rect x="432.00" y="437.00" width="5.60" height="1.9" fill="#ff9f40"/>
<rect x="438.30" y="437.00" width="5.60" height="1.9" fill="#ff9f40"/>
<rect x="444.60" y="437.00" width="5.60" height="1.9" fill="#ff9f40"/>
<rect x="450.80" y="424.00" width="5.80" height="14.90" fill="#ff9f40"/>
<rect x="457.10" y="424.00" width="5.80" height="14.90" fill="#ff9f40"/>
<rect x="463.40" y="431.45" width="5.80" height="7.45" fill="#ff9f40"/>
<rect x="469.70" y="431.45" width="5.80" height="7.45" fill="#ff9f40"/>
<rect x="476.10" y="437.00" width="5.60" height="1.9" fill="#ff9f40"/>
<rect x="482.40" y="437.00" width="5.60" height="1.9" fill="#ff9f40"/>
<rect x="488.70" y="437.00" width="5.60" height="1.9" fill="#ff9f40"/>
<rect x="494.90" y="431.45" width="5.80" height="7.45" fill="#ff9f40"/>
<rect x="501.20" y="431.45" width="5.80" height="7.45" fill="#ff9f40"/>
<rect x="507.50" y="431.45" width="5.80" height="7.45" fill="#ff9f40"/>
<rect x="513.80" y="424.00" width="5.80" height="14.90" fill="#ff9f40"/>
<rect x="520.20" y="437.00" width="5.60" height="1.9" fill="#ff9f40"/>
<rect x="526.50" y="437.00" width="5.60" height="1.9" fill="#ff9f40"/>
<rect x="532.80" y="437.00" width="5.60" height="1.9" fill="#ff9f40"/>
<rect x="539.10" y="437.00" width="5.60" height="1.9" fill="#ff9f40"/>
<rect x="545.30" y="431.45" width="5.80" height="7.45" fill="#ff9f40"/>
<rect x="551.70" y="437.00" width="5.60" height="1.9" fill="#ff9f40"/>
<rect x="558.00" y="437.00" width="5.60" height="1.9" fill="#ff9f40"/>
<rect x="564.20" y="431.45" width="5.80" height="7.45" fill="#ff9f40"/>
<rect x="570.60" y="437.00" width="5.60" height="1.9" fill="#ff9f40"/>
<rect x="576.90" y="437.00" width="5.60" height="1.9" fill="#ff9f40"/>
<rect x="583.20" y="437.00" width="5.60" height="1.9" fill="#ff9f40"/>
<rect x="589.40" y="431.45" width="5.80" height="7.45" fill="#ff9f40"/>
<rect x="595.80" y="437.00" width="5.60" height="1.9" fill="#ff9f40"/>
<rect x="602.00" y="431.45" width="5.80" height="7.45" fill="#ff9f40"/>
<rect x="608.30" y="431.45" width="5.80" height="7.45" fill="#ff9f40"/>
<rect x="614.60" y="431.45" width="5.80" height="7.45" fill="#ff9f40"/>
<rect x="621.00" y="437.00" width="5.60" height="1.9" fill="#ff9f40"/>
<rect x="627.20" y="431.45" width="5.80" height="7.45" fill="#ff9f40"/>
<rect x="633.60" y="437.00" width="5.60" height="1.9" fill="#ff9f40"/>
<rect x="639.90" y="437.00" width="5.60" height="1.9" fill="#ff9f40"/>
<text x="339.70" y="457.60" font-size="14.1" text-anchor="start" fill="#ffdcdc" font-weight="normal">23E10, 201y&gt;5HT1A RNAi + veh</text>
<text x="612.90" y="459.60" font-size="14.1" text-anchor="start" fill="#ffdcdc" font-weight="normal"><tspan font-family="Liberation Serif, serif">Σ</tspan> = 39</text>
<rect x="344.55" y="488.80" width="5.60" height="1.9" fill="#ffdcdc"/>
<rect x="350.85" y="488.80" width="5.60" height="1.9" fill="#ffdcdc"/>
<rect x="357.05" y="475.70" width="5.80" height="15.00" fill="#ffdcdc"/>
<rect x="363.35" y="483.20" width="5.80" height="7.50" fill="#ffdcdc"/>
<rect x="369.65" y="475.70" width="5.80" height="15.00" fill="#ffdcdc"/>
<rect x="375.95" y="468.20" width="5.80" height="22.50" fill="#ffdcdc"/>
<rect x="382.25" y="483.20" width="5.80" height="7.50" fill="#ffdcdc"/>
<rect x="388.65" y="488.80" width="5.60" height="1.9" fill="#ffdcdc"/>
<rect x="394.95" y="488.80" width="5.60" height="1.9" fill="#ffdcdc"/>
<rect x="401.25" y="488.80" width="5.60" height="1.9" fill="#ffdcdc"/>
<rect x="407.45" y="483.20" width="5.80" height="7.50" fill="#ffdcdc"/>
<rect x="413.85" y="488.80" width="5.60" height="1.9" fill="#ffdcdc"/>
<rect x="420.15" y="488.80" width="5.60" height="1.9" fill="#ffdcdc"/>
<rect x="426.45" y="488.80" width="5.60" height="1.9" fill="#ffdcdc"/>
<rect x="432.65" y="483.20" width="5.80" height="7.50" fill="#ffdcdc"/>
<rect x="438.95" y="483.20" width="5.80" height="7.50" fill="#ffdcdc"/>
<rect x="445.35" y="488.80" width="5.60" height="1.9" fill="#ffdcdc"/>
<rect x="451.65" y="488.80" width="5.60" height="1.9" fill="#ffdcdc"/>
<rect x="457.85" y="483.20" width="5.80" height="7.50" fill="#ffdcdc"/>
<rect x="464.25" y="488.80" width="5.60" height="1.9" fill="#ffdcdc"/>
<rect x="470.45" y="483.20" width="5.80" height="7.50" fill="#ffdcdc"/>
<rect x="476.85" y="488.80" width="5.60" height="1.9" fill="#ffdcdc"/>
<rect x="483.15" y="488.80" width="5.60" height="1.9" fill="#ffdcdc"/>
<rect x="489.45" y="488.80" width="5.60" height="1.9" fill="#ffdcdc"/>
<rect x="495.65" y="483.20" width="5.80" height="7.50" fill="#ffdcdc"/>
<rect x="501.95" y="483.20" width="5.80" height="7.50" fill="#ffdcdc"/>
<rect x="508.25" y="475.70" width="5.80" height="15.00" fill="#ffdcdc"/>
<rect x="514.55" y="483.20" width="5.80" height="7.50" fill="#ffdcdc"/>
<rect x="520.85" y="483.20" width="5.80" height="7.50" fill="#ffdcdc"/>
<rect x="527.25" y="488.80" width="5.60" height="1.9" fill="#ffdcdc"/>
<rect x="533.45" y="475.70" width="5.80" height="15.00" fill="#ffdcdc"/>
<rect x="539.85" y="488.80" width="5.60" height="1.9" fill="#ffdcdc"/>
<rect x="546.15" y="488.80" width="5.60" height="1.9" fill="#ffdcdc"/>
<rect x="552.45" y="488.80" width="5.60" height="1.9" fill="#ffdcdc"/>
<rect x="558.75" y="488.80" width="5.60" height="1.9" fill="#ffdcdc"/>
<rect x="564.95" y="483.20" width="5.80" height="7.50" fill="#ffdcdc"/>
<rect x="571.25" y="468.20" width="5.80" height="22.50" fill="#ffdcdc"/>
<rect x="577.55" y="483.20" width="5.80" height="7.50" fill="#ffdcdc"/>
<rect x="583.95" y="488.80" width="5.60" height="1.9" fill="#ffdcdc"/>
<rect x="590.15" y="483.20" width="5.80" height="7.50" fill="#ffdcdc"/>
<rect x="596.55" y="488.80" width="5.60" height="1.9" fill="#ffdcdc"/>
<rect x="602.85" y="488.80" width="5.60" height="1.9" fill="#ffdcdc"/>
<rect x="609.15" y="488.80" width="5.60" height="1.9" fill="#ffdcdc"/>
<rect x="615.35" y="483.20" width="5.80" height="7.50" fill="#ffdcdc"/>
<rect x="621.65" y="475.70" width="5.80" height="15.00" fill="#ffdcdc"/>
<rect x="627.95" y="460.70" width="5.80" height="30.00" fill="#ffdcdc"/>
<rect x="634.35" y="488.80" width="5.60" height="1.9" fill="#ffdcdc"/>
<rect x="640.65" y="488.80" width="5.60" height="1.9" fill="#ffdcdc"/>
<text x="339.70" y="509.50" font-size="14.1" text-anchor="start" fill="#ff8080" font-weight="normal">23E10, 201y&gt;5HT1A RNAi + 8OHDPAT</text>
<text x="616.80" y="512.00" font-size="14.1" text-anchor="start" fill="#ff8080" font-weight="normal"><tspan font-family="Liberation Serif, serif">Σ</tspan> = 9</text>
<rect x="344.05" y="527.10" width="5.47" height="1.9" fill="#ff8080"/>
<rect x="350.22" y="527.10" width="5.47" height="1.9" fill="#ff8080"/>
<rect x="356.29" y="522.00" width="5.67" height="7.00" fill="#ff8080"/>
<rect x="362.56" y="527.10" width="5.47" height="1.9" fill="#ff8080"/>
<rect x="368.73" y="527.10" width="5.47" height="1.9" fill="#ff8080"/>
<rect x="374.90" y="527.10" width="5.47" height="1.9" fill="#ff8080"/>
<rect x="381.07" y="527.10" width="5.47" height="1.9" fill="#ff8080"/>
<rect x="387.24" y="527.10" width="5.47" height="1.9" fill="#ff8080"/>
<rect x="393.41" y="527.10" width="5.47" height="1.9" fill="#ff8080"/>
<rect x="399.58" y="527.10" width="5.47" height="1.9" fill="#ff8080"/>
<rect x="405.65" y="522.00" width="5.67" height="7.00" fill="#ff8080"/>
<rect x="411.82" y="522.00" width="5.67" height="7.00" fill="#ff8080"/>
<rect x="418.09" y="527.10" width="5.47" height="1.9" fill="#ff8080"/>
<rect x="424.26" y="527.10" width="5.47" height="1.9" fill="#ff8080"/>
<rect x="430.43" y="527.10" width="5.47" height="1.9" fill="#ff8080"/>
<rect x="436.60" y="527.10" width="5.47" height="1.9" fill="#ff8080"/>
<rect x="442.77" y="527.10" width="5.47" height="1.9" fill="#ff8080"/>
<rect x="448.94" y="527.10" width="5.47" height="1.9" fill="#ff8080"/>
<rect x="455.11" y="527.10" width="5.47" height="1.9" fill="#ff8080"/>
<rect x="461.28" y="527.10" width="5.47" height="1.9" fill="#ff8080"/>
<rect x="467.45" y="527.10" width="5.47" height="1.9" fill="#ff8080"/>
<rect x="473.62" y="527.10" width="5.47" height="1.9" fill="#ff8080"/>
<rect x="479.79" y="527.10" width="5.47" height="1.9" fill="#ff8080"/>
<rect x="485.96" y="527.10" width="5.47" height="1.9" fill="#ff8080"/>
<rect x="492.03" y="522.00" width="5.67" height="7.00" fill="#ff8080"/>
<rect x="498.20" y="522.00" width="5.67" height="7.00" fill="#ff8080"/>
<rect x="504.37" y="522.00" width="5.67" height="7.00" fill="#ff8080"/>
<rect x="510.64" y="527.10" width="5.47" height="1.9" fill="#ff8080"/>
<rect x="516.71" y="522.00" width="5.67" height="7.00" fill="#ff8080"/>
<rect x="522.88" y="522.00" width="5.67" height="7.00" fill="#ff8080"/>
<rect x="529.15" y="527.10" width="5.47" height="1.9" fill="#ff8080"/>
<rect x="535.32" y="527.10" width="5.47" height="1.9" fill="#ff8080"/>
<rect x="541.49" y="527.10" width="5.47" height="1.9" fill="#ff8080"/>
<rect x="547.66" y="527.10" width="5.47" height="1.9" fill="#ff8080"/>
<rect x="553.83" y="527.10" width="5.47" height="1.9" fill="#ff8080"/>
<rect x="560.00" y="527.10" width="5.47" height="1.9" fill="#ff8080"/>
<rect x="566.17" y="527.10" width="5.47" height="1.9" fill="#ff8080"/>
<rect x="572.34" y="527.10" width="5.47" height="1.9" fill="#ff8080"/>
<rect x="578.51" y="527.10" width="5.47" height="1.9" fill="#ff8080"/>
<rect x="584.68" y="527.10" width="5.47" height="1.9" fill="#ff8080"/>
<rect x="590.85" y="527.10" width="5.47" height="1.9" fill="#ff8080"/>
<rect x="596.92" y="522.00" width="5.67" height="7.00" fill="#ff8080"/>
<rect x="603.19" y="527.10" width="5.47" height="1.9" fill="#ff8080"/>
<rect x="609.36" y="527.10" width="5.47" height="1.9" fill="#ff8080"/>
<rect x="615.53" y="527.10" width="5.47" height="1.9" fill="#ff8080"/>
<rect x="621.70" y="527.10" width="5.47" height="1.9" fill="#ff8080"/>
<rect x="627.87" y="527.10" width="5.47" height="1.9" fill="#ff8080"/>
<rect x="634.04" y="527.10" width="5.47" height="1.9" fill="#ff8080"/>
<rect x="341.50" y="535.80" width="158.50" height="8.90" fill="#fff" stroke="#000" stroke-width="1.35"/>
<rect x="499.50" y="535.10" width="161.20" height="10.30" fill="#000" stroke="none" stroke-width="1.0"/>
<text x="340.00" y="557.00" font-size="11.7" text-anchor="start" fill="#000" font-weight="normal">0</text>
<text x="499.00" y="556.60" font-size="12" text-anchor="middle" fill="#000" font-weight="normal">12</text>
<text x="658.00" y="556.60" font-size="12" text-anchor="middle" fill="#000" font-weight="normal">24</text>
</g>
<g id="panel-d">
<text x="2.50" y="592.30" font-size="20" text-anchor="start" fill="#000" font-weight="bold">d</text>
<line x1="52.70" y1="599.70" x2="52.70" y2="711.60" stroke="#000" stroke-width="1.25" stroke-linecap="butt"/>
<line x1="47.30" y1="711.00" x2="52.70" y2="711.00" stroke="#000" stroke-width="1.1" stroke-linecap="butt"/>
<text x="46.40" y="713.90" font-size="8.4" text-anchor="end" fill="#000" font-weight="normal">0</text>
<line x1="47.30" y1="674.10" x2="52.70" y2="674.10" stroke="#000" stroke-width="1.1" stroke-linecap="butt"/>
<text x="46.40" y="677.00" font-size="8.4" text-anchor="end" fill="#000" font-weight="normal">500</text>
<line x1="47.30" y1="637.20" x2="52.70" y2="637.20" stroke="#000" stroke-width="1.1" stroke-linecap="butt"/>
<text x="46.40" y="640.10" font-size="8.4" text-anchor="end" fill="#000" font-weight="normal">1000</text>
<line x1="47.30" y1="600.30" x2="52.70" y2="600.30" stroke="#000" stroke-width="1.1" stroke-linecap="butt"/>
<text x="46.40" y="603.20" font-size="8.4" text-anchor="end" fill="#000" font-weight="normal">1500</text>
<text x="22.30" y="656.00" font-size="9.2" text-anchor="middle" fill="#000" font-weight="normal" transform="rotate(-90 22.30 656.00)">Daily sleep (min)</text>
<circle cx="69.60" cy="637.47" r="2.2" fill="none" stroke="#fedcbc" stroke-width="1.25"/>
<circle cx="69.60" cy="623.91" r="2.2" fill="none" stroke="#fedcbc" stroke-width="1.25"/>
<circle cx="72.60" cy="625.49" r="2.2" fill="none" stroke="#fedcbc" stroke-width="1.25"/>
<circle cx="66.60" cy="624.97" r="2.2" fill="none" stroke="#fedcbc" stroke-width="1.25"/>
<circle cx="63.60" cy="626.00" r="2.2" fill="none" stroke="#fedcbc" stroke-width="1.25"/>
<circle cx="75.60" cy="624.45" r="2.2" fill="none" stroke="#fedcbc" stroke-width="1.25"/>
<circle cx="69.60" cy="630.56" r="2.2" fill="none" stroke="#fedcbc" stroke-width="1.25"/>
<circle cx="72.60" cy="632.20" r="2.2" fill="none" stroke="#fedcbc" stroke-width="1.25"/>
<circle cx="66.10" cy="629.87" r="2.2" fill="none" stroke="#fedcbc" stroke-width="1.25"/>
<circle cx="69.60" cy="615.50" r="2.2" fill="none" stroke="#fedcbc" stroke-width="1.25"/>
<circle cx="61.60" cy="623.35" r="2.2" fill="none" stroke="#fedcbc" stroke-width="1.25"/>
<circle cx="72.60" cy="617.24" r="2.2" fill="none" stroke="#fedcbc" stroke-width="1.25"/>
<circle cx="69.60" cy="618.71" r="2.2" fill="none" stroke="#fedcbc" stroke-width="1.25"/>
<circle cx="72.10" cy="620.68" r="2.2" fill="none" stroke="#fedcbc" stroke-width="1.25"/>
<circle cx="74.91" cy="622.76" r="2.2" fill="none" stroke="#fedcbc" stroke-width="1.25"/>
<circle cx="66.60" cy="619.80" r="2.2" fill="none" stroke="#fedcbc" stroke-width="1.25"/>
<circle cx="73.60" cy="629.24" r="2.2" fill="none" stroke="#fedcbc" stroke-width="1.25"/>
<circle cx="69.60" cy="627.03" r="2.2" fill="none" stroke="#fedcbc" stroke-width="1.25"/>
<circle cx="76.10" cy="631.32" r="2.2" fill="none" stroke="#fedcbc" stroke-width="1.25"/>
<circle cx="62.61" cy="621.44" r="2.2" fill="none" stroke="#fedcbc" stroke-width="1.25"/>
<circle cx="62.17" cy="622.13" r="2.2" fill="none" stroke="#fedcbc" stroke-width="1.25"/>
<circle cx="61.60" cy="628.65" r="2.2" fill="none" stroke="#fedcbc" stroke-width="1.25"/>
<circle cx="76.60" cy="627.55" r="2.2" fill="none" stroke="#fedcbc" stroke-width="1.25"/>
<circle cx="67.60" cy="634.76" r="2.2" fill="none" stroke="#fedcbc" stroke-width="1.25"/>
<circle cx="69.60" cy="656.00" r="2.2" fill="none" stroke="#fedcbc" stroke-width="1.25"/>
<circle cx="64.60" cy="633.29" r="2.2" fill="none" stroke="#fedcbc" stroke-width="1.25"/>
<circle cx="75.67" cy="628.09" r="2.2" fill="none" stroke="#fedcbc" stroke-width="1.25"/>
<circle cx="69.60" cy="642.00" r="2.2" fill="none" stroke="#fedcbc" stroke-width="1.25"/>
<circle cx="71.19" cy="626.51" r="2.2" fill="none" stroke="#fedcbc" stroke-width="1.25"/>
<circle cx="95.10" cy="634.28" r="2.2" fill="none" stroke="#ff9f40" stroke-width="1.25"/>
<circle cx="95.10" cy="643.28" r="2.2" fill="none" stroke="#ff9f40" stroke-width="1.25"/>
<circle cx="95.10" cy="655.44" r="2.2" fill="none" stroke="#ff9f40" stroke-width="1.25"/>
<circle cx="95.10" cy="637.57" r="2.2" fill="none" stroke="#ff9f40" stroke-width="1.25"/>
<circle cx="98.10" cy="638.93" r="2.2" fill="none" stroke="#ff9f40" stroke-width="1.25"/>
<circle cx="95.10" cy="669.00" r="2.2" fill="none" stroke="#ff9f40" stroke-width="1.25"/>
<circle cx="95.10" cy="662.78" r="2.2" fill="none" stroke="#ff9f40" stroke-width="1.25"/>
<circle cx="97.10" cy="653.00" r="2.2" fill="none" stroke="#ff9f40" stroke-width="1.25"/>
<circle cx="92.10" cy="641.52" r="2.2" fill="none" stroke="#ff9f40" stroke-width="1.25"/>
<circle cx="95.10" cy="648.07" r="2.2" fill="none" stroke="#ff9f40" stroke-width="1.25"/>
<circle cx="97.60" cy="645.95" r="2.2" fill="none" stroke="#ff9f40" stroke-width="1.25"/>
<circle cx="98.10" cy="661.56" r="2.2" fill="none" stroke="#ff9f40" stroke-width="1.25"/>
<circle cx="95.10" cy="673.00" r="2.2" fill="none" stroke="#ff9f40" stroke-width="1.25"/>
<circle cx="98.10" cy="642.42" r="2.2" fill="none" stroke="#ff9f40" stroke-width="1.25"/>
<circle cx="92.10" cy="646.94" r="2.2" fill="none" stroke="#ff9f40" stroke-width="1.25"/>
<circle cx="93.60" cy="652.72" r="2.2" fill="none" stroke="#ff9f40" stroke-width="1.25"/>
<circle cx="100.60" cy="645.03" r="2.2" fill="none" stroke="#ff9f40" stroke-width="1.25"/>
<circle cx="98.10" cy="649.43" r="2.2" fill="none" stroke="#ff9f40" stroke-width="1.25"/>
<circle cx="95.10" cy="676.50" r="2.2" fill="none" stroke="#ff9f40" stroke-width="1.25"/>
<circle cx="92.10" cy="664.00" r="2.2" fill="none" stroke="#ff9f40" stroke-width="1.25"/>
<circle cx="92.10" cy="636.74" r="2.2" fill="none" stroke="#ff9f40" stroke-width="1.25"/>
<circle cx="93.10" cy="660.33" r="2.2" fill="none" stroke="#ff9f40" stroke-width="1.25"/>
<circle cx="98.10" cy="635.70" r="2.2" fill="none" stroke="#ff9f40" stroke-width="1.25"/>
<circle cx="97.10" cy="657.89" r="2.2" fill="none" stroke="#ff9f40" stroke-width="1.25"/>
<circle cx="101.10" cy="640.57" r="2.2" fill="none" stroke="#ff9f40" stroke-width="1.25"/>
<circle cx="89.60" cy="643.72" r="2.2" fill="none" stroke="#ff9f40" stroke-width="1.25"/>
<circle cx="89.60" cy="639.52" r="2.2" fill="none" stroke="#ff9f40" stroke-width="1.25"/>
<circle cx="88.60" cy="647.48" r="2.2" fill="none" stroke="#ff9f40" stroke-width="1.25"/>
<circle cx="99.56" cy="641.05" r="2.2" fill="none" stroke="#ff9f40" stroke-width="1.25"/>
<circle cx="91.42" cy="640.06" r="2.2" fill="none" stroke="#ff9f40" stroke-width="1.25"/>
<circle cx="88.49" cy="646.43" r="2.2" fill="none" stroke="#ff9f40" stroke-width="1.25"/>
<circle cx="92.10" cy="656.67" r="2.2" fill="none" stroke="#ff9f40" stroke-width="1.25"/>
<circle cx="101.60" cy="648.71" r="2.2" fill="none" stroke="#ff9f40" stroke-width="1.25"/>
<circle cx="92.42" cy="644.15" r="2.2" fill="none" stroke="#ff9f40" stroke-width="1.25"/>
<circle cx="95.10" cy="691.70" r="2.2" fill="none" stroke="#ff9f40" stroke-width="1.25"/>
<circle cx="102.53" cy="638.29" r="2.2" fill="none" stroke="#ff9f40" stroke-width="1.25"/>
<circle cx="90.10" cy="634.20" r="2.2" fill="none" stroke="#ff9f40" stroke-width="1.25"/>
<circle cx="99.60" cy="655.00" r="2.2" fill="none" stroke="#ff9f40" stroke-width="1.25"/>
<circle cx="99.23" cy="644.58" r="2.2" fill="none" stroke="#ff9f40" stroke-width="1.25"/>
<circle cx="88.99" cy="642.85" r="2.2" fill="none" stroke="#ff9f40" stroke-width="1.25"/>
<circle cx="90.10" cy="654.22" r="2.2" fill="none" stroke="#ff9f40" stroke-width="1.25"/>
<circle cx="91.04" cy="641.97" r="2.2" fill="none" stroke="#ff9f40" stroke-width="1.25"/>
<circle cx="100.10" cy="659.11" r="2.2" fill="none" stroke="#ff9f40" stroke-width="1.25"/>
<circle cx="91.60" cy="650.26" r="2.2" fill="none" stroke="#ff9f40" stroke-width="1.25"/>
<circle cx="88.72" cy="645.48" r="2.2" fill="none" stroke="#ff9f40" stroke-width="1.25"/>
<circle cx="88.60" cy="651.30" r="2.2" fill="none" stroke="#ff9f40" stroke-width="1.25"/>
<circle cx="121.40" cy="629.04" r="2.2" fill="none" stroke="#ffdcdc" stroke-width="1.25"/>
<circle cx="121.40" cy="618.17" r="2.2" fill="none" stroke="#ffdcdc" stroke-width="1.25"/>
<circle cx="121.40" cy="641.00" r="2.2" fill="none" stroke="#ffdcdc" stroke-width="1.25"/>
<circle cx="121.40" cy="622.49" r="2.2" fill="none" stroke="#ffdcdc" stroke-width="1.25"/>
<circle cx="121.40" cy="612.96" r="2.2" fill="none" stroke="#ffdcdc" stroke-width="1.25"/>
<circle cx="124.40" cy="621.29" r="2.2" fill="none" stroke="#ffdcdc" stroke-width="1.25"/>
<circle cx="123.90" cy="626.81" r="2.2" fill="none" stroke="#ffdcdc" stroke-width="1.25"/>
<circle cx="118.40" cy="619.51" r="2.2" fill="none" stroke="#ffdcdc" stroke-width="1.25"/>
<circle cx="124.40" cy="616.44" r="2.2" fill="none" stroke="#ffdcdc" stroke-width="1.25"/>
<circle cx="117.90" cy="623.14" r="2.2" fill="none" stroke="#ffdcdc" stroke-width="1.25"/>
<circle cx="126.40" cy="623.83" r="2.2" fill="none" stroke="#ffdcdc" stroke-width="1.25"/>
<circle cx="127.40" cy="620.12" r="2.2" fill="none" stroke="#ffdcdc" stroke-width="1.25"/>
<circle cx="115.90" cy="617.38" r="2.2" fill="none" stroke="#ffdcdc" stroke-width="1.25"/>
<circle cx="115.40" cy="620.71" r="2.2" fill="none" stroke="#ffdcdc" stroke-width="1.25"/>
<circle cx="113.41" cy="621.88" r="2.2" fill="none" stroke="#ffdcdc" stroke-width="1.25"/>
<circle cx="127.23" cy="618.86" r="2.2" fill="none" stroke="#ffdcdc" stroke-width="1.25"/>
<circle cx="120.90" cy="625.56" r="2.2" fill="none" stroke="#ffdcdc" stroke-width="1.25"/>
<circle cx="114.90" cy="624.62" r="2.2" fill="none" stroke="#ffdcdc" stroke-width="1.25"/>
<circle cx="118.90" cy="615.19" r="2.2" fill="none" stroke="#ffdcdc" stroke-width="1.25"/>
<circle cx="147.20" cy="628.68" r="2.2" fill="none" stroke="#ff8080" stroke-width="1.25"/>
<circle cx="147.20" cy="641.63" r="2.2" fill="none" stroke="#ff8080" stroke-width="1.25"/>
<circle cx="147.20" cy="648.43" r="2.2" fill="none" stroke="#ff8080" stroke-width="1.25"/>
<circle cx="149.20" cy="631.23" r="2.2" fill="none" stroke="#ff8080" stroke-width="1.25"/>
<circle cx="144.20" cy="630.06" r="2.2" fill="none" stroke="#ff8080" stroke-width="1.25"/>
<circle cx="147.20" cy="659.04" r="2.2" fill="none" stroke="#ff8080" stroke-width="1.25"/>
<circle cx="147.20" cy="654.77" r="2.2" fill="none" stroke="#ff8080" stroke-width="1.25"/>
<circle cx="147.20" cy="634.03" r="2.2" fill="none" stroke="#ff8080" stroke-width="1.25"/>
<circle cx="150.70" cy="649.08" r="2.2" fill="none" stroke="#ff8080" stroke-width="1.25"/>
<circle cx="150.70" cy="642.18" r="2.2" fill="none" stroke="#ff8080" stroke-width="1.25"/>
<circle cx="148.70" cy="638.79" r="2.2" fill="none" stroke="#ff8080" stroke-width="1.25"/>
<circle cx="144.20" cy="649.74" r="2.2" fill="none" stroke="#ff8080" stroke-width="1.25"/>
<circle cx="144.20" cy="646.62" r="2.2" fill="none" stroke="#ff8080" stroke-width="1.25"/>
<circle cx="148.20" cy="645.48" r="2.2" fill="none" stroke="#ff8080" stroke-width="1.25"/>
<circle cx="144.20" cy="642.73" r="2.2" fill="none" stroke="#ff8080" stroke-width="1.25"/>
<circle cx="145.20" cy="638.19" r="2.2" fill="none" stroke="#ff8080" stroke-width="1.25"/>
<circle cx="142.20" cy="639.96" r="2.2" fill="none" stroke="#ff8080" stroke-width="1.25"/>
<circle cx="150.20" cy="655.94" r="2.2" fill="none" stroke="#ff8080" stroke-width="1.25"/>
<circle cx="141.20" cy="647.81" r="2.2" fill="none" stroke="#ff8080" stroke-width="1.25"/>
<circle cx="144.20" cy="633.18" r="2.2" fill="none" stroke="#ff8080" stroke-width="1.25"/>
<circle cx="153.70" cy="640.52" r="2.2" fill="none" stroke="#ff8080" stroke-width="1.25"/>
<circle cx="147.20" cy="665.00" r="2.2" fill="none" stroke="#ff8080" stroke-width="1.25"/>
<circle cx="140.70" cy="643.27" r="2.2" fill="none" stroke="#ff8080" stroke-width="1.25"/>
<circle cx="153.20" cy="647.21" r="2.2" fill="none" stroke="#ff8080" stroke-width="1.25"/>
<circle cx="144.20" cy="653.74" r="2.2" fill="none" stroke="#ff8080" stroke-width="1.25"/>
<circle cx="151.20" cy="636.92" r="2.2" fill="none" stroke="#ff8080" stroke-width="1.25"/>
<circle cx="153.70" cy="650.45" r="2.2" fill="none" stroke="#ff8080" stroke-width="1.25"/>
<circle cx="141.74" cy="644.92" r="2.2" fill="none" stroke="#ff8080" stroke-width="1.25"/>
<circle cx="142.20" cy="635.55" r="2.2" fill="none" stroke="#ff8080" stroke-width="1.25"/>
<circle cx="149.20" cy="661.44" r="2.2" fill="none" stroke="#ff8080" stroke-width="1.25"/>
<circle cx="153.70" cy="643.82" r="2.2" fill="none" stroke="#ff8080" stroke-width="1.25"/>
<circle cx="147.20" cy="622.30" r="2.2" fill="none" stroke="#ff8080" stroke-width="1.25"/>
<circle cx="149.26" cy="639.38" r="2.2" fill="none" stroke="#ff8080" stroke-width="1.25"/>
<circle cx="148.06" cy="646.04" r="2.2" fill="none" stroke="#ff8080" stroke-width="1.25"/>
<circle cx="144.20" cy="657.32" r="2.2" fill="none" stroke="#ff8080" stroke-width="1.25"/>
<circle cx="153.70" cy="634.81" r="2.2" fill="none" stroke="#ff8080" stroke-width="1.25"/>
<circle cx="150.20" cy="626.96" r="2.2" fill="none" stroke="#ff8080" stroke-width="1.25"/>
<circle cx="141.20" cy="632.26" r="2.2" fill="none" stroke="#ff8080" stroke-width="1.25"/>
<circle cx="141.20" cy="651.19" r="2.2" fill="none" stroke="#ff8080" stroke-width="1.25"/>
<circle cx="149.70" cy="652.82" r="2.2" fill="none" stroke="#ff8080" stroke-width="1.25"/>
<circle cx="150.19" cy="644.37" r="2.2" fill="none" stroke="#ff8080" stroke-width="1.25"/>
<circle cx="145.41" cy="636.26" r="2.2" fill="none" stroke="#ff8080" stroke-width="1.25"/>
<circle cx="139.70" cy="637.57" r="2.2" fill="none" stroke="#ff8080" stroke-width="1.25"/>
<circle cx="144.70" cy="624.56" r="2.2" fill="none" stroke="#ff8080" stroke-width="1.25"/>
<circle cx="146.92" cy="641.08" r="2.2" fill="none" stroke="#ff8080" stroke-width="1.25"/>
<circle cx="140.46" cy="651.97" r="2.2" fill="none" stroke="#ff8080" stroke-width="1.25"/>
<line x1="60.60" y1="629.40" x2="78.60" y2="629.40" stroke="#000" stroke-width="1.4" stroke-linecap="butt"/>
<line x1="69.60" y1="627.90" x2="69.60" y2="630.90" stroke="#000" stroke-width="1.4" stroke-linecap="butt"/>
<line x1="65.20" y1="627.90" x2="74.00" y2="627.90" stroke="#000" stroke-width="1.4" stroke-linecap="butt"/>
<line x1="65.20" y1="630.90" x2="74.00" y2="630.90" stroke="#000" stroke-width="1.4" stroke-linecap="butt"/>
<line x1="86.10" y1="654.10" x2="104.10" y2="654.10" stroke="#000" stroke-width="1.4" stroke-linecap="butt"/>
<line x1="95.10" y1="652.10" x2="95.10" y2="656.10" stroke="#000" stroke-width="1.4" stroke-linecap="butt"/>
<line x1="90.70" y1="652.10" x2="99.50" y2="652.10" stroke="#000" stroke-width="1.4" stroke-linecap="butt"/>
<line x1="90.70" y1="656.10" x2="99.50" y2="656.10" stroke="#000" stroke-width="1.4" stroke-linecap="butt"/>
<line x1="112.40" y1="622.60" x2="130.40" y2="622.60" stroke="#000" stroke-width="1.5" stroke-linecap="butt"/>
<line x1="121.40" y1="621.70" x2="121.40" y2="623.50" stroke="#000" stroke-width="1.5" stroke-linecap="butt"/>
<line x1="117.00" y1="621.70" x2="125.80" y2="621.70" stroke="#000" stroke-width="1.5" stroke-linecap="butt"/>
<line x1="117.00" y1="623.50" x2="125.80" y2="623.50" stroke="#000" stroke-width="1.5" stroke-linecap="butt"/>
<line x1="138.20" y1="643.00" x2="156.20" y2="643.00" stroke="#000" stroke-width="1.4" stroke-linecap="butt"/>
<line x1="147.20" y1="641.40" x2="147.20" y2="644.60" stroke="#000" stroke-width="1.4" stroke-linecap="butt"/>
<line x1="142.80" y1="641.40" x2="151.60" y2="641.40" stroke="#000" stroke-width="1.4" stroke-linecap="butt"/>
<line x1="142.80" y1="644.60" x2="151.60" y2="644.60" stroke="#000" stroke-width="1.4" stroke-linecap="butt"/>
<text x="96.30" y="589.20" font-size="6.0" text-anchor="middle" fill="#000" font-weight="normal">p=0.0005</text>
<line x1="69.20" y1="593.80" x2="123.60" y2="593.80" stroke="#41418c" stroke-width="1.6" stroke-linecap="round"/>
<text x="81.40" y="604.90" font-size="6.0" text-anchor="middle" fill="#000" font-weight="normal">p&lt;0.0001</text>
<line x1="68.20" y1="609.20" x2="96.70" y2="609.20" stroke="#000" stroke-width="1.8" stroke-linecap="round"/>
<text x="122.50" y="604.90" font-size="6.0" text-anchor="middle" fill="#000" font-weight="normal">p&lt;0.0001</text>
<line x1="97.20" y1="609.20" x2="149.40" y2="609.20" stroke="#41418c" stroke-width="1.6" stroke-linecap="round"/>
</g>
<g id="panel-e">
<text x="160.00" y="595.40" font-size="20" text-anchor="start" fill="#000" font-weight="bold">e</text>
<line x1="218.30" y1="599.90" x2="218.30" y2="712.20" stroke="#000" stroke-width="1.3" stroke-linecap="butt"/>
<line x1="217.70" y1="711.60" x2="293.20" y2="711.60" stroke="#000" stroke-width="1.3" stroke-linecap="butt"/>
<line x1="212.80" y1="711.60" x2="218.30" y2="711.60" stroke="#000" stroke-width="1.1" stroke-linecap="butt"/>
<text x="211.80" y="714.60" font-size="8.5" text-anchor="end" fill="#000" font-weight="normal">0.0</text>
<line x1="212.80" y1="674.57" x2="218.30" y2="674.57" stroke="#000" stroke-width="1.1" stroke-linecap="butt"/>
<text x="211.80" y="677.57" font-size="8.5" text-anchor="end" fill="#000" font-weight="normal">0.2</text>
<line x1="212.80" y1="637.53" x2="218.30" y2="637.53" stroke="#000" stroke-width="1.1" stroke-linecap="butt"/>
<text x="211.80" y="640.53" font-size="8.5" text-anchor="end" fill="#000" font-weight="normal">0.4</text>
<line x1="212.80" y1="600.50" x2="218.30" y2="600.50" stroke="#000" stroke-width="1.1" stroke-linecap="butt"/>
<text x="211.80" y="603.50" font-size="8.5" text-anchor="end" fill="#000" font-weight="normal">0.6</text>
<line x1="239.20" y1="711.60" x2="239.20" y2="716.90" stroke="#000" stroke-width="1.2" stroke-linecap="butt"/>
<line x1="271.30" y1="711.60" x2="271.30" y2="716.90" stroke="#000" stroke-width="1.2" stroke-linecap="butt"/>
<text x="185.20" y="656.20" font-size="9.2" text-anchor="middle" fill="#000" font-weight="normal" transform="rotate(-90 185.20 656.20)">Efficacy of 8OHDPAT</text>
<text x="196.30" y="656.00" font-size="9.2" text-anchor="middle" fill="#000" font-weight="normal" transform="rotate(-90 196.30 656.00)">on Daily Sleep (%)</text>
<circle cx="238.80" cy="607.00" r="1.9" fill="#ff9f40" stroke="none" stroke-width="1.0"/>
<circle cx="235.70" cy="614.20" r="1.9" fill="#ff9f40" stroke="none" stroke-width="1.0"/>
<circle cx="242.80" cy="612.30" r="1.9" fill="#ff9f40" stroke="none" stroke-width="1.0"/>
<circle cx="235.70" cy="623.40" r="1.9" fill="#ff9f40" stroke="none" stroke-width="1.0"/>
<circle cx="242.00" cy="623.40" r="1.9" fill="#ff9f40" stroke="none" stroke-width="1.0"/>
<circle cx="238.80" cy="641.80" r="1.9" fill="#ff9f40" stroke="none" stroke-width="1.0"/>
<circle cx="239.40" cy="697.00" r="1.9" fill="#ff9f40" stroke="none" stroke-width="1.0"/>
<line x1="228.10" y1="631.20" x2="249.90" y2="631.20" stroke="#000" stroke-width="1.15" stroke-linecap="butt"/>
<line x1="239.00" y1="619.40" x2="239.00" y2="643.00" stroke="#000" stroke-width="1.15" stroke-linecap="butt"/>
<line x1="233.20" y1="619.40" x2="244.80" y2="619.40" stroke="#000" stroke-width="1.15" stroke-linecap="butt"/>
<line x1="233.20" y1="643.00" x2="244.80" y2="643.00" stroke="#000" stroke-width="1.15" stroke-linecap="butt"/>
<circle cx="270.90" cy="641.20" r="1.9" fill="#ff8080" stroke="none" stroke-width="1.0"/>
<circle cx="267.70" cy="660.10" r="1.9" fill="#ff8080" stroke="none" stroke-width="1.0"/>
<circle cx="274.30" cy="660.10" r="1.9" fill="#ff8080" stroke="none" stroke-width="1.0"/>
<circle cx="270.90" cy="684.60" r="1.9" fill="#ff8080" stroke="none" stroke-width="1.0"/>
<circle cx="270.90" cy="691.70" r="1.9" fill="#ff8080" stroke="none" stroke-width="1.0"/>
<circle cx="270.90" cy="699.60" r="1.9" fill="#ff8080" stroke="none" stroke-width="1.0"/>
<circle cx="270.90" cy="709.50" r="1.9" fill="#ff8080" stroke="none" stroke-width="1.0"/>
<line x1="260.00" y1="678.00" x2="282.20" y2="678.00" stroke="#000" stroke-width="1.15" stroke-linecap="butt"/>
<line x1="271.10" y1="668.40" x2="271.10" y2="687.60" stroke="#000" stroke-width="1.15" stroke-linecap="butt"/>
<line x1="265.20" y1="668.40" x2="277.00" y2="668.40" stroke="#000" stroke-width="1.15" stroke-linecap="butt"/>
<line x1="265.20" y1="687.60" x2="277.00" y2="687.60" stroke="#000" stroke-width="1.15" stroke-linecap="butt"/>
<text x="254.20" y="598.00" font-size="6.0" text-anchor="middle" fill="#000" font-weight="normal">p=0.0010</text>
<line x1="238.70" y1="602.40" x2="270.00" y2="602.40" stroke="#41418c" stroke-width="1.6" stroke-linecap="round"/>
<text x="243.00" y="722.60" font-size="9.0" text-anchor="end" fill="#000" font-weight="normal" transform="rotate(-45 243.00 722.60)">Control</text>
<text x="275.90" y="722.60" font-size="9.0" text-anchor="end" fill="#000" font-weight="normal" transform="rotate(-45 275.90 722.60)">5HT1A RNAi</text>
</g>
<g id="panel-f">
<text x="326.50" y="592.30" font-size="20" text-anchor="start" fill="#000" font-weight="bold">f</text>
<line x1="350.60" y1="599.60" x2="350.60" y2="711.90" stroke="#000" stroke-width="1.4" stroke-linecap="butt"/>
<line x1="345.20" y1="711.30" x2="350.60" y2="711.30" stroke="#000" stroke-width="1.2" stroke-linecap="butt"/>
<text x="344.20" y="714.30" font-size="8.5" text-anchor="end" fill="#000" font-weight="normal">0</text>
<line x1="345.20" y1="689.08" x2="350.60" y2="689.08" stroke="#000" stroke-width="1.2" stroke-linecap="butt"/>
<text x="344.20" y="692.08" font-size="8.5" text-anchor="end" fill="#000" font-weight="normal">1</text>
<line x1="345.20" y1="666.86" x2="350.60" y2="666.86" stroke="#000" stroke-width="1.2" stroke-linecap="butt"/>
<text x="344.20" y="669.86" font-size="8.5" text-anchor="end" fill="#000" font-weight="normal">2</text>
<line x1="345.20" y1="644.64" x2="350.60" y2="644.64" stroke="#000" stroke-width="1.2" stroke-linecap="butt"/>
<text x="344.20" y="647.64" font-size="8.5" text-anchor="end" fill="#000" font-weight="normal">3</text>
<line x1="345.20" y1="622.42" x2="350.60" y2="622.42" stroke="#000" stroke-width="1.2" stroke-linecap="butt"/>
<text x="344.20" y="625.42" font-size="8.5" text-anchor="end" fill="#000" font-weight="normal">4</text>
<line x1="345.20" y1="600.20" x2="350.60" y2="600.20" stroke="#000" stroke-width="1.2" stroke-linecap="butt"/>
<text x="344.20" y="603.20" font-size="8.5" text-anchor="end" fill="#000" font-weight="normal">5</text>
<text x="335.40" y="656.00" font-size="9.2" text-anchor="middle" fill="#000" font-weight="normal" transform="rotate(-90 335.40 656.00)">Daily number of seizures</text>
<rect x="359.20" y="687.00" width="16.40" height="24.30" fill="none" stroke="#fedcbc" stroke-width="0.9"/>
<circle cx="367.18" cy="649.27" r="1.0" fill="#fedcbc" stroke="none" stroke-width="1.0"/>
<circle cx="365.58" cy="652.96" r="1.0" fill="#fedcbc" stroke="none" stroke-width="1.0"/>
<circle cx="369.27" cy="655.21" r="1.0" fill="#fedcbc" stroke="none" stroke-width="1.0"/>
<circle cx="367.18" cy="656.50" r="1.0" fill="#fedcbc" stroke="none" stroke-width="1.0"/>
<circle cx="362.85" cy="658.10" r="1.0" fill="#fedcbc" stroke="none" stroke-width="1.0"/>
<circle cx="365.74" cy="658.91" r="1.0" fill="#fedcbc" stroke="none" stroke-width="1.0"/>
<circle cx="368.79" cy="658.59" r="1.0" fill="#fedcbc" stroke="none" stroke-width="1.0"/>
<circle cx="371.68" cy="658.10" r="1.0" fill="#fedcbc" stroke="none" stroke-width="1.0"/>
<circle cx="366.06" cy="667.26" r="1.0" fill="#fedcbc" stroke="none" stroke-width="1.0"/>
<circle cx="368.95" cy="667.26" r="1.0" fill="#fedcbc" stroke="none" stroke-width="1.0"/>
<circle cx="367.18" cy="673.04" r="1.0" fill="#fedcbc" stroke="none" stroke-width="1.0"/>
<circle cx="365.74" cy="677.37" r="1.0" fill="#fedcbc" stroke="none" stroke-width="1.0"/>
<circle cx="368.79" cy="677.70" r="1.0" fill="#fedcbc" stroke="none" stroke-width="1.0"/>
<circle cx="366.06" cy="691.51" r="1.0" fill="#fedcbc" stroke="none" stroke-width="1.0"/>
<circle cx="368.79" cy="691.51" r="1.0" fill="#fedcbc" stroke="none" stroke-width="1.0"/>
<circle cx="371.36" cy="692.63" r="1.0" fill="#fedcbc" stroke="none" stroke-width="1.0"/>
<circle cx="363.65" cy="694.24" r="1.0" fill="#fedcbc" stroke="none" stroke-width="1.0"/>
<circle cx="367.18" cy="694.56" r="1.0" fill="#fedcbc" stroke="none" stroke-width="1.0"/>
<circle cx="370.07" cy="695.84" r="1.0" fill="#fedcbc" stroke="none" stroke-width="1.0"/>
<circle cx="361.24" cy="698.73" r="1.0" fill="#fedcbc" stroke="none" stroke-width="1.0"/>
<circle cx="364.13" cy="698.73" r="1.0" fill="#fedcbc" stroke="none" stroke-width="1.0"/>
<circle cx="367.18" cy="698.73" r="1.0" fill="#fedcbc" stroke="none" stroke-width="1.0"/>
<circle cx="370.07" cy="698.73" r="1.0" fill="#fedcbc" stroke="none" stroke-width="1.0"/>
<circle cx="372.96" cy="698.73" r="1.0" fill="#fedcbc" stroke="none" stroke-width="1.0"/>
<circle cx="361.24" cy="701.46" r="1.0" fill="#fedcbc" stroke="none" stroke-width="1.0"/>
<circle cx="364.13" cy="701.46" r="1.0" fill="#fedcbc" stroke="none" stroke-width="1.0"/>
<circle cx="367.18" cy="701.46" r="1.0" fill="#fedcbc" stroke="none" stroke-width="1.0"/>
<circle cx="370.07" cy="701.46" r="1.0" fill="#fedcbc" stroke="none" stroke-width="1.0"/>
<circle cx="372.96" cy="701.46" r="1.0" fill="#fedcbc" stroke="none" stroke-width="1.0"/>
<circle cx="365.58" cy="703.87" r="1.0" fill="#fedcbc" stroke="none" stroke-width="1.0"/>
<circle cx="368.47" cy="703.87" r="1.0" fill="#fedcbc" stroke="none" stroke-width="1.0"/>
<circle cx="364.13" cy="710.30" r="1.0" fill="#fedcbc" stroke="none" stroke-width="1.0"/>
<circle cx="366.38" cy="710.30" r="1.0" fill="#fedcbc" stroke="none" stroke-width="1.0"/>
<circle cx="368.63" cy="710.30" r="1.0" fill="#fedcbc" stroke="none" stroke-width="1.0"/>
<circle cx="370.88" cy="710.30" r="1.0" fill="#fedcbc" stroke="none" stroke-width="1.0"/>
<line x1="367.30" y1="683.80" x2="367.30" y2="689.80" stroke="#000" stroke-width="1.3" stroke-linecap="butt"/>
<line x1="362.90" y1="683.80" x2="371.70" y2="683.80" stroke="#000" stroke-width="1.3" stroke-linecap="butt"/>
<line x1="362.90" y1="689.80" x2="371.70" y2="689.80" stroke="#000" stroke-width="1.3" stroke-linecap="butt"/>
<rect x="385.20" y="700.90" width="15.60" height="9.60" fill="none" stroke="#ff9f40" stroke-width="1.8"/>
<circle cx="392.88" cy="643.17" r="1.15" fill="#ff9f40" stroke="none" stroke-width="1.0"/>
<circle cx="392.88" cy="680.91" r="1.15" fill="#ff9f40" stroke="none" stroke-width="1.0"/>
<circle cx="392.88" cy="683.00" r="1.15" fill="#ff9f40" stroke="none" stroke-width="1.0"/>
<circle cx="392.07" cy="688.62" r="1.15" fill="#ff9f40" stroke="none" stroke-width="1.0"/>
<circle cx="393.36" cy="689.42" r="1.15" fill="#ff9f40" stroke="none" stroke-width="1.0"/>
<circle cx="392.88" cy="693.43" r="1.15" fill="#ff9f40" stroke="none" stroke-width="1.0"/>
<circle cx="392.07" cy="698.73" r="1.15" fill="#ff9f40" stroke="none" stroke-width="1.0"/>
<circle cx="393.68" cy="701.78" r="1.15" fill="#ff9f40" stroke="none" stroke-width="1.0"/>
<circle cx="391.43" cy="704.67" r="1.15" fill="#ff9f40" stroke="none" stroke-width="1.0"/>
<circle cx="394.16" cy="705.48" r="1.15" fill="#ff9f40" stroke="none" stroke-width="1.0"/>
<circle cx="393.00" cy="614.30" r="1.15" fill="#ff9f40" stroke="none" stroke-width="1.0"/>
<line x1="392.90" y1="696.90" x2="392.90" y2="704.00" stroke="#000" stroke-width="1.3" stroke-linecap="butt"/>
<line x1="388.30" y1="696.90" x2="397.50" y2="696.90" stroke="#000" stroke-width="1.3" stroke-linecap="butt"/>
<line x1="388.30" y1="704.00" x2="397.50" y2="704.00" stroke="#000" stroke-width="1.3" stroke-linecap="butt"/>
<rect x="410.80" y="704.80" width="15.80" height="6.50" fill="none" stroke="#ffdcdc" stroke-width="0.9"/>
<circle cx="418.57" cy="681.07" r="1.0" fill="#ffdcdc" stroke="none" stroke-width="1.0"/>
<circle cx="418.57" cy="686.21" r="1.0" fill="#ffdcdc" stroke="none" stroke-width="1.0"/>
<circle cx="418.57" cy="691.02" r="1.0" fill="#ffdcdc" stroke="none" stroke-width="1.0"/>
<circle cx="418.57" cy="694.24" r="1.0" fill="#ffdcdc" stroke="none" stroke-width="1.0"/>
<circle cx="417.45" cy="699.86" r="1.0" fill="#ffdcdc" stroke="none" stroke-width="1.0"/>
<circle cx="419.86" cy="700.18" r="1.0" fill="#ffdcdc" stroke="none" stroke-width="1.0"/>
<circle cx="418.57" cy="701.46" r="1.0" fill="#ffdcdc" stroke="none" stroke-width="1.0"/>
<line x1="418.60" y1="703.10" x2="418.60" y2="706.30" stroke="#000" stroke-width="1.15" stroke-linecap="butt"/>
<line x1="414.20" y1="703.10" x2="423.00" y2="703.10" stroke="#000" stroke-width="1.15" stroke-linecap="butt"/>
<line x1="414.20" y1="706.30" x2="423.00" y2="706.30" stroke="#000" stroke-width="1.15" stroke-linecap="butt"/>
<line x1="414.20" y1="704.70" x2="423.00" y2="704.70" stroke="#000" stroke-width="1.15" stroke-linecap="butt"/>
<rect x="436.00" y="708.60" width="16.80" height="2.70" fill="#ff8080" stroke="#ff8080" stroke-width="0.6"/>
<circle cx="443.95" cy="694.24" r="1.05" fill="#ff8080" stroke="none" stroke-width="1.0"/>
<circle cx="443.95" cy="703.23" r="1.05" fill="#ff8080" stroke="none" stroke-width="1.0"/>
<circle cx="443.95" cy="705.16" r="1.05" fill="#ff8080" stroke="none" stroke-width="1.0"/>
<line x1="439.20" y1="709.90" x2="449.00" y2="709.90" stroke="#000" stroke-width="1.7" stroke-linecap="butt"/>
<polyline points="383.6,609.4 383.6,603.6 431.2,603.6 431.2,609.4" fill="none" stroke="#000" stroke-width="1.6" stroke-linejoin="miter"/>
<polyline points="366.8,615.4 366.8,609.4 404.6,609.4 404.6,615.4" fill="none" stroke="#000" stroke-width="1.6" stroke-linejoin="miter"/>
<polyline points="412,615.4 412,609.4 450.6,609.4 450.6,615.4" fill="none" stroke="#000" stroke-width="1.6" stroke-linejoin="miter"/>
<text x="407.60" y="599.40" font-size="6.0" text-anchor="middle" fill="#000" font-weight="normal">p&lt;0.0001</text>
<text x="380.80" y="625.20" font-size="6.0" text-anchor="middle" fill="#000" font-weight="normal">p&lt;0.0001</text>
<line x1="367.20" y1="629.70" x2="395.00" y2="629.70" stroke="#41418c" stroke-width="1.6" stroke-linecap="round"/>
<text x="433.40" y="671.70" font-size="6.0" text-anchor="middle" fill="#000" font-weight="normal">p= 0.0003</text>
<line x1="418.90" y1="675.90" x2="447.60" y2="675.90" stroke="#41418c" stroke-width="1.6" stroke-linecap="round"/>
</g>
<g id="panel-g">
<text x="481.00" y="588.30" font-size="19.5" text-anchor="start" fill="#000" font-weight="bold">g</text>
<line x1="521.90" y1="599.20" x2="521.90" y2="712.00" stroke="#000" stroke-width="1.4" stroke-linecap="butt"/>
<line x1="516.00" y1="711.40" x2="521.90" y2="711.40" stroke="#000" stroke-width="1.2" stroke-linecap="butt"/>
<text x="515.80" y="714.40" font-size="8.5" text-anchor="end" fill="#000" font-weight="normal">0</text>
<line x1="516.00" y1="683.50" x2="521.90" y2="683.50" stroke="#000" stroke-width="1.2" stroke-linecap="butt"/>
<text x="515.80" y="686.50" font-size="8.5" text-anchor="end" fill="#000" font-weight="normal">20</text>
<line x1="516.00" y1="655.60" x2="521.90" y2="655.60" stroke="#000" stroke-width="1.2" stroke-linecap="butt"/>
<text x="515.80" y="658.60" font-size="8.5" text-anchor="end" fill="#000" font-weight="normal">40</text>
<line x1="516.00" y1="627.70" x2="521.90" y2="627.70" stroke="#000" stroke-width="1.2" stroke-linecap="butt"/>
<text x="515.80" y="630.70" font-size="8.5" text-anchor="end" fill="#000" font-weight="normal">60</text>
<line x1="516.00" y1="599.80" x2="521.90" y2="599.80" stroke="#000" stroke-width="1.2" stroke-linecap="butt"/>
<text x="515.80" y="602.80" font-size="8.5" text-anchor="end" fill="#000" font-weight="normal">80</text>
<text x="502.30" y="655.80" font-size="9.2" text-anchor="middle" fill="#000" font-weight="normal" transform="rotate(-90 502.30 655.80)">Seizure duration (min)</text>
<rect x="530.80" y="694.40" width="16.60" height="17.00" fill="none" stroke="#fedcbc" stroke-width="1.1"/>
<circle cx="538.95" cy="618.15" r="1.05" fill="#fedcbc" stroke="none" stroke-width="1.0"/>
<circle cx="538.95" cy="635.65" r="1.05" fill="#fedcbc" stroke="none" stroke-width="1.0"/>
<circle cx="538.95" cy="643.68" r="1.05" fill="#fedcbc" stroke="none" stroke-width="1.0"/>
<circle cx="538.95" cy="651.39" r="1.05" fill="#fedcbc" stroke="none" stroke-width="1.0"/>
<circle cx="538.95" cy="653.16" r="1.05" fill="#fedcbc" stroke="none" stroke-width="1.0"/>
<circle cx="538.95" cy="655.89" r="1.05" fill="#fedcbc" stroke="none" stroke-width="1.0"/>
<circle cx="538.95" cy="658.62" r="1.05" fill="#fedcbc" stroke="none" stroke-width="1.0"/>
<circle cx="538.95" cy="661.02" r="1.05" fill="#fedcbc" stroke="none" stroke-width="1.0"/>
<circle cx="538.95" cy="663.43" r="1.05" fill="#fedcbc" stroke="none" stroke-width="1.0"/>
<circle cx="538.95" cy="669.86" r="1.05" fill="#fedcbc" stroke="none" stroke-width="1.0"/>
<circle cx="538.95" cy="672.27" r="1.05" fill="#fedcbc" stroke="none" stroke-width="1.0"/>
<circle cx="538.95" cy="675.48" r="1.05" fill="#fedcbc" stroke="none" stroke-width="1.0"/>
<circle cx="538.95" cy="678.69" r="1.05" fill="#fedcbc" stroke="none" stroke-width="1.0"/>
<circle cx="538.95" cy="681.90" r="1.05" fill="#fedcbc" stroke="none" stroke-width="1.0"/>
<circle cx="538.95" cy="685.11" r="1.05" fill="#fedcbc" stroke="none" stroke-width="1.0"/>
<circle cx="538.95" cy="688.00" r="1.05" fill="#fedcbc" stroke="none" stroke-width="1.0"/>
<circle cx="538.95" cy="690.89" r="1.05" fill="#fedcbc" stroke="none" stroke-width="1.0"/>
<circle cx="538.95" cy="693.95" r="1.05" fill="#fedcbc" stroke="none" stroke-width="1.0"/>
<circle cx="538.95" cy="696.35" r="1.05" fill="#fedcbc" stroke="none" stroke-width="1.0"/>
<circle cx="538.95" cy="698.76" r="1.05" fill="#fedcbc" stroke="none" stroke-width="1.0"/>
<circle cx="538.95" cy="701.17" r="1.05" fill="#fedcbc" stroke="none" stroke-width="1.0"/>
<circle cx="538.95" cy="703.58" r="1.05" fill="#fedcbc" stroke="none" stroke-width="1.0"/>
<circle cx="535.99" cy="703.19" r="1.0" fill="#fedcbc" stroke="none" stroke-width="1.0"/>
<circle cx="539.71" cy="709.45" r="1.0" fill="#fedcbc" stroke="none" stroke-width="1.0"/>
<circle cx="542.78" cy="709.73" r="1.0" fill="#fedcbc" stroke="none" stroke-width="1.0"/>
<circle cx="539.15" cy="702.70" r="1.0" fill="#fedcbc" stroke="none" stroke-width="1.0"/>
<circle cx="534.82" cy="702.35" r="1.0" fill="#fedcbc" stroke="none" stroke-width="1.0"/>
<circle cx="537.52" cy="705.26" r="1.0" fill="#fedcbc" stroke="none" stroke-width="1.0"/>
<circle cx="537.99" cy="708.24" r="1.0" fill="#fedcbc" stroke="none" stroke-width="1.0"/>
<circle cx="535.64" cy="703.35" r="1.0" fill="#fedcbc" stroke="none" stroke-width="1.0"/>
<circle cx="539.12" cy="706.35" r="1.0" fill="#fedcbc" stroke="none" stroke-width="1.0"/>
<circle cx="540.55" cy="709.94" r="1.0" fill="#fedcbc" stroke="none" stroke-width="1.0"/>
<circle cx="534.35" cy="705.30" r="1.0" fill="#fedcbc" stroke="none" stroke-width="1.0"/>
<circle cx="536.03" cy="708.42" r="1.0" fill="#fedcbc" stroke="none" stroke-width="1.0"/>
<circle cx="541.13" cy="707.80" r="1.0" fill="#fedcbc" stroke="none" stroke-width="1.0"/>
<circle cx="540.58" cy="708.24" r="1.0" fill="#fedcbc" stroke="none" stroke-width="1.0"/>
<circle cx="537.79" cy="704.29" r="1.0" fill="#fedcbc" stroke="none" stroke-width="1.0"/>
<circle cx="539.65" cy="703.81" r="1.0" fill="#fedcbc" stroke="none" stroke-width="1.0"/>
<circle cx="537.87" cy="703.72" r="1.0" fill="#fedcbc" stroke="none" stroke-width="1.0"/>
<circle cx="544.72" cy="709.62" r="1.0" fill="#fedcbc" stroke="none" stroke-width="1.0"/>
<circle cx="539.78" cy="705.26" r="1.0" fill="#fedcbc" stroke="none" stroke-width="1.0"/>
<circle cx="538.26" cy="706.23" r="1.0" fill="#fedcbc" stroke="none" stroke-width="1.0"/>
<circle cx="542.33" cy="709.80" r="1.0" fill="#fedcbc" stroke="none" stroke-width="1.0"/>
<circle cx="539.49" cy="702.96" r="1.0" fill="#fedcbc" stroke="none" stroke-width="1.0"/>
<circle cx="537.67" cy="706.98" r="1.0" fill="#fedcbc" stroke="none" stroke-width="1.0"/>
<circle cx="538.07" cy="709.70" r="1.0" fill="#fedcbc" stroke="none" stroke-width="1.0"/>
<circle cx="539.12" cy="702.72" r="1.0" fill="#fedcbc" stroke="none" stroke-width="1.0"/>
<circle cx="539.39" cy="706.64" r="1.0" fill="#fedcbc" stroke="none" stroke-width="1.0"/>
<circle cx="540.34" cy="706.27" r="1.0" fill="#fedcbc" stroke="none" stroke-width="1.0"/>
<circle cx="539.15" cy="709.92" r="1.0" fill="#fedcbc" stroke="none" stroke-width="1.0"/>
<circle cx="536.17" cy="707.49" r="1.0" fill="#fedcbc" stroke="none" stroke-width="1.0"/>
<circle cx="540.55" cy="702.80" r="1.0" fill="#fedcbc" stroke="none" stroke-width="1.0"/>
<circle cx="537.27" cy="707.24" r="1.0" fill="#fedcbc" stroke="none" stroke-width="1.0"/>
<circle cx="538.05" cy="710.24" r="1.0" fill="#fedcbc" stroke="none" stroke-width="1.0"/>
<circle cx="542.84" cy="707.21" r="1.0" fill="#fedcbc" stroke="none" stroke-width="1.0"/>
<circle cx="540.36" cy="703.28" r="1.0" fill="#fedcbc" stroke="none" stroke-width="1.0"/>
<line x1="539.00" y1="691.50" x2="539.00" y2="696.40" stroke="#000" stroke-width="1.3" stroke-linecap="butt"/>
<line x1="534.10" y1="691.50" x2="543.90" y2="691.50" stroke="#000" stroke-width="1.3" stroke-linecap="butt"/>
<line x1="534.10" y1="696.40" x2="543.90" y2="696.40" stroke="#000" stroke-width="1.3" stroke-linecap="butt"/>
<rect x="557.00" y="701.20" width="15.40" height="9.30" fill="none" stroke="#ff9f40" stroke-width="2.0"/>
<circle cx="564.48" cy="651.71" r="1.15" fill="#ff9f40" stroke="none" stroke-width="1.0"/>
<circle cx="564.48" cy="657.49" r="1.15" fill="#ff9f40" stroke="none" stroke-width="1.0"/>
<circle cx="563.36" cy="684.15" r="1.15" fill="#ff9f40" stroke="none" stroke-width="1.0"/>
<circle cx="565.45" cy="684.63" r="1.15" fill="#ff9f40" stroke="none" stroke-width="1.0"/>
<circle cx="567.37" cy="683.83" r="1.15" fill="#ff9f40" stroke="none" stroke-width="1.0"/>
<circle cx="565.45" cy="686.24" r="1.15" fill="#ff9f40" stroke="none" stroke-width="1.0"/>
<circle cx="566.57" cy="692.82" r="1.15" fill="#ff9f40" stroke="none" stroke-width="1.0"/>
<circle cx="563.04" cy="694.75" r="1.15" fill="#ff9f40" stroke="none" stroke-width="1.0"/>
<circle cx="564.97" cy="695.07" r="1.15" fill="#ff9f40" stroke="none" stroke-width="1.0"/>
<circle cx="567.05" cy="694.11" r="1.15" fill="#ff9f40" stroke="none" stroke-width="1.0"/>
<circle cx="562.07" cy="696.84" r="1.15" fill="#ff9f40" stroke="none" stroke-width="1.0"/>
<circle cx="561.78" cy="710.38" r="1.15" fill="#ff9f40" stroke="none" stroke-width="1.0"/>
<circle cx="570.97" cy="706.97" r="1.15" fill="#ff9f40" stroke="none" stroke-width="1.0"/>
<circle cx="567.29" cy="710.21" r="1.15" fill="#ff9f40" stroke="none" stroke-width="1.0"/>
<circle cx="561.38" cy="708.88" r="1.15" fill="#ff9f40" stroke="none" stroke-width="1.0"/>
<circle cx="558.94" cy="707.93" r="1.15" fill="#ff9f40" stroke="none" stroke-width="1.0"/>
<circle cx="566.89" cy="708.80" r="1.15" fill="#ff9f40" stroke="none" stroke-width="1.0"/>
<circle cx="568.16" cy="706.84" r="1.15" fill="#ff9f40" stroke="none" stroke-width="1.0"/>
<circle cx="562.77" cy="709.87" r="1.15" fill="#ff9f40" stroke="none" stroke-width="1.0"/>
<circle cx="565.76" cy="708.26" r="1.15" fill="#ff9f40" stroke="none" stroke-width="1.0"/>
<circle cx="563.47" cy="710.35" r="1.15" fill="#ff9f40" stroke="none" stroke-width="1.0"/>
<circle cx="565.64" cy="706.57" r="1.15" fill="#ff9f40" stroke="none" stroke-width="1.0"/>
<circle cx="568.47" cy="707.78" r="1.15" fill="#ff9f40" stroke="none" stroke-width="1.0"/>
<circle cx="563.86" cy="707.33" r="1.15" fill="#ff9f40" stroke="none" stroke-width="1.0"/>
<circle cx="563.99" cy="707.77" r="1.15" fill="#ff9f40" stroke="none" stroke-width="1.0"/>
<circle cx="559.52" cy="708.96" r="1.15" fill="#ff9f40" stroke="none" stroke-width="1.0"/>
<circle cx="559.70" cy="709.56" r="1.15" fill="#ff9f40" stroke="none" stroke-width="1.0"/>
<circle cx="558.72" cy="709.54" r="1.15" fill="#ff9f40" stroke="none" stroke-width="1.0"/>
<circle cx="568.58" cy="708.44" r="1.15" fill="#ff9f40" stroke="none" stroke-width="1.0"/>
<circle cx="567.34" cy="707.47" r="1.15" fill="#ff9f40" stroke="none" stroke-width="1.0"/>
<circle cx="567.69" cy="708.16" r="1.15" fill="#ff9f40" stroke="none" stroke-width="1.0"/>
<circle cx="561.31" cy="710.26" r="1.15" fill="#ff9f40" stroke="none" stroke-width="1.0"/>
<circle cx="563.45" cy="707.95" r="1.15" fill="#ff9f40" stroke="none" stroke-width="1.0"/>
<circle cx="569.23" cy="707.94" r="1.15" fill="#ff9f40" stroke="none" stroke-width="1.0"/>
<circle cx="566.81" cy="707.17" r="1.15" fill="#ff9f40" stroke="none" stroke-width="1.0"/>
<circle cx="569.03" cy="707.51" r="1.15" fill="#ff9f40" stroke="none" stroke-width="1.0"/>
<circle cx="559.04" cy="710.30" r="1.15" fill="#ff9f40" stroke="none" stroke-width="1.0"/>
<circle cx="560.58" cy="710.19" r="1.15" fill="#ff9f40" stroke="none" stroke-width="1.0"/>
<circle cx="570.83" cy="708.87" r="1.15" fill="#ff9f40" stroke="none" stroke-width="1.0"/>
<circle cx="558.55" cy="706.74" r="1.15" fill="#ff9f40" stroke="none" stroke-width="1.0"/>
<circle cx="561.03" cy="708.02" r="1.15" fill="#ff9f40" stroke="none" stroke-width="1.0"/>
<line x1="564.70" y1="697.20" x2="564.70" y2="702.80" stroke="#000" stroke-width="1.3" stroke-linecap="butt"/>
<line x1="560.20" y1="697.20" x2="569.20" y2="697.20" stroke="#000" stroke-width="1.3" stroke-linecap="butt"/>
<line x1="560.20" y1="702.80" x2="569.20" y2="702.80" stroke="#000" stroke-width="1.3" stroke-linecap="butt"/>
<rect x="582.20" y="700.60" width="16.20" height="10.80" fill="none" stroke="#ffdcdc" stroke-width="1.1"/>
<circle cx="590.18" cy="635.01" r="1.05" fill="#ffdcdc" stroke="none" stroke-width="1.0"/>
<circle cx="590.18" cy="663.11" r="1.05" fill="#ffdcdc" stroke="none" stroke-width="1.0"/>
<circle cx="590.18" cy="681.58" r="1.05" fill="#ffdcdc" stroke="none" stroke-width="1.0"/>
<circle cx="590.18" cy="687.04" r="1.05" fill="#ffdcdc" stroke="none" stroke-width="1.0"/>
<circle cx="590.18" cy="692.34" r="1.05" fill="#ffdcdc" stroke="none" stroke-width="1.0"/>
<circle cx="589.05" cy="694.75" r="1.05" fill="#ffdcdc" stroke="none" stroke-width="1.0"/>
<circle cx="591.30" cy="696.03" r="1.05" fill="#ffdcdc" stroke="none" stroke-width="1.0"/>
<circle cx="591.65" cy="710.04" r="1.0" fill="#ffdcdc" stroke="none" stroke-width="1.0"/>
<circle cx="591.01" cy="706.11" r="1.0" fill="#ffdcdc" stroke="none" stroke-width="1.0"/>
<circle cx="584.83" cy="708.41" r="1.0" fill="#ffdcdc" stroke="none" stroke-width="1.0"/>
<circle cx="589.57" cy="708.82" r="1.0" fill="#ffdcdc" stroke="none" stroke-width="1.0"/>
<circle cx="593.63" cy="707.21" r="1.0" fill="#ffdcdc" stroke="none" stroke-width="1.0"/>
<circle cx="593.00" cy="709.07" r="1.0" fill="#ffdcdc" stroke="none" stroke-width="1.0"/>
<circle cx="595.14" cy="707.97" r="1.0" fill="#ffdcdc" stroke="none" stroke-width="1.0"/>
<circle cx="590.57" cy="706.58" r="1.0" fill="#ffdcdc" stroke="none" stroke-width="1.0"/>
<circle cx="591.89" cy="706.23" r="1.0" fill="#ffdcdc" stroke="none" stroke-width="1.0"/>
<circle cx="583.87" cy="705.97" r="1.0" fill="#ffdcdc" stroke="none" stroke-width="1.0"/>
<circle cx="589.64" cy="708.01" r="1.0" fill="#ffdcdc" stroke="none" stroke-width="1.0"/>
<circle cx="589.97" cy="709.88" r="1.0" fill="#ffdcdc" stroke="none" stroke-width="1.0"/>
<circle cx="590.66" cy="706.60" r="1.0" fill="#ffdcdc" stroke="none" stroke-width="1.0"/>
<circle cx="595.26" cy="707.82" r="1.0" fill="#ffdcdc" stroke="none" stroke-width="1.0"/>
<circle cx="590.51" cy="708.10" r="1.0" fill="#ffdcdc" stroke="none" stroke-width="1.0"/>
<circle cx="592.06" cy="708.26" r="1.0" fill="#ffdcdc" stroke="none" stroke-width="1.0"/>
<circle cx="587.60" cy="709.23" r="1.0" fill="#ffdcdc" stroke="none" stroke-width="1.0"/>
<circle cx="592.79" cy="707.54" r="1.0" fill="#ffdcdc" stroke="none" stroke-width="1.0"/>
<circle cx="590.07" cy="707.39" r="1.0" fill="#ffdcdc" stroke="none" stroke-width="1.0"/>
<circle cx="588.55" cy="709.51" r="1.0" fill="#ffdcdc" stroke="none" stroke-width="1.0"/>
<circle cx="586.70" cy="709.57" r="1.0" fill="#ffdcdc" stroke="none" stroke-width="1.0"/>
<circle cx="595.09" cy="704.50" r="1.0" fill="#ffdcdc" stroke="none" stroke-width="1.0"/>
<circle cx="591.46" cy="708.29" r="1.0" fill="#ffdcdc" stroke="none" stroke-width="1.0"/>
<circle cx="584.60" cy="705.77" r="1.0" fill="#ffdcdc" stroke="none" stroke-width="1.0"/>
<circle cx="591.61" cy="705.80" r="1.0" fill="#ffdcdc" stroke="none" stroke-width="1.0"/>
<circle cx="589.81" cy="708.02" r="1.0" fill="#ffdcdc" stroke="none" stroke-width="1.0"/>
<line x1="590.20" y1="697.50" x2="590.20" y2="703.10" stroke="#000" stroke-width="1.3" stroke-linecap="butt"/>
<line x1="585.70" y1="697.50" x2="594.70" y2="697.50" stroke="#000" stroke-width="1.3" stroke-linecap="butt"/>
<line x1="585.70" y1="703.10" x2="594.70" y2="703.10" stroke="#000" stroke-width="1.3" stroke-linecap="butt"/>
<polyline points="608.1,711.4 608.1,693.3 623.8,693.3 623.8,711.4" fill="none" stroke="#ff8080" stroke-width="1.5"/>
<circle cx="613.95" cy="675.00" r="1.1" fill="#ff8080" stroke="none" stroke-width="1.0"/>
<circle cx="617.96" cy="674.35" r="1.1" fill="#ff8080" stroke="none" stroke-width="1.0"/>
<circle cx="615.87" cy="685.11" r="1.1" fill="#ff8080" stroke="none" stroke-width="1.0"/>
<circle cx="615.87" cy="701.98" r="1.1" fill="#ff8080" stroke="none" stroke-width="1.0"/>
<circle cx="615.87" cy="705.19" r="1.1" fill="#ff8080" stroke="none" stroke-width="1.0"/>
<circle cx="615.87" cy="707.92" r="1.1" fill="#ff8080" stroke="none" stroke-width="1.0"/>
<circle cx="615.87" cy="710.49" r="1.1" fill="#ff8080" stroke="none" stroke-width="1.0"/>
<line x1="616.00" y1="686.20" x2="616.00" y2="699.90" stroke="#000" stroke-width="1.3" stroke-linecap="butt"/>
<line x1="611.10" y1="686.20" x2="620.90" y2="686.20" stroke="#000" stroke-width="1.3" stroke-linecap="butt"/>
<line x1="611.10" y1="699.90" x2="620.90" y2="699.90" stroke="#000" stroke-width="1.3" stroke-linecap="butt"/>
<text x="576.00" y="606.80" font-size="6.0" text-anchor="middle" fill="#000" font-weight="normal">ns</text>
<line x1="535.70" y1="610.90" x2="616.80" y2="610.90" stroke="#41418c" stroke-width="1.6" stroke-linecap="round"/>
</g>
</svg>
</body></html>
